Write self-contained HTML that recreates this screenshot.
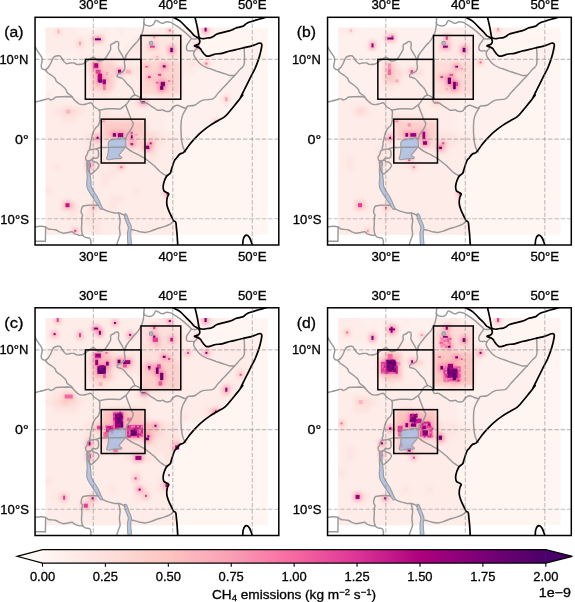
<!DOCTYPE html><html><head><meta charset="utf-8"><style>html,body{margin:0;padding:0;background:#fff;overflow:hidden}svg{display:block;will-change:transform}</style></head><body>
<svg width="575" height="602" viewBox="0 0 575 602" font-family="Liberation Sans, sans-serif">
<defs>
<clipPath id="cf" clipPathUnits="userSpaceOnUse"><rect x="35.05" y="17.3" width="243.75" height="227.7"/></clipPath>
<g id="geo" clip-path="url(#cf)">
<path d="M125.5,139.1 C125.8,139.9 125.8,141.3 125.8,142.5 C125.8,143.7 126.2,145.1 125.8,146.4 C125.3,147.7 124.0,149.0 123.1,150.1 C122.2,151.2 121.3,152.3 120.6,153.1 C119.9,153.9 118.6,154.3 118.8,155.0 C119.0,155.7 121.5,156.8 121.8,157.4 C122.1,158.0 121.6,158.4 120.6,158.6 C119.6,158.8 117.3,158.5 115.8,158.6 C114.3,158.7 112.7,159.0 111.5,159.2 C110.3,159.4 109.3,159.9 108.5,159.8 C107.7,159.7 106.7,159.5 106.6,158.6 C106.5,157.7 107.5,156.0 107.8,154.3 C108.1,152.6 108.4,150.1 108.5,148.3 C108.6,146.5 108.0,144.7 108.2,143.4 C108.4,142.1 108.9,141.0 109.7,140.3 C110.5,139.6 112.1,139.7 113.3,139.4 C114.5,139.2 115.8,139.1 117.0,138.8 C118.2,138.6 119.5,138.1 120.6,137.9 C121.7,137.8 122.9,137.7 123.7,137.9 C124.5,138.1 125.2,138.3 125.5,139.1Z" fill="#98b6e2" fill-opacity="0.72" stroke="#9c9c9c" stroke-width="1.1"/>
<path d="M87.6,162.5 C87.2,162.8 87.3,162.9 87.2,164.2 C87.1,165.5 86.8,168.4 86.8,170.5 C86.8,172.6 87.2,174.7 87.2,176.8 C87.2,178.9 86.8,181.3 86.8,183.2 C86.8,185.0 86.7,186.3 87.2,187.9 C87.7,189.5 88.7,191.0 89.6,192.6 C90.5,194.2 91.8,195.8 92.8,197.4 C93.8,199.0 95.0,200.7 95.9,202.1 C96.8,203.5 97.5,204.9 98.3,206.1 C99.1,207.3 100.0,208.8 100.7,209.2 C101.4,209.6 102.6,209.2 102.6,208.4 C102.6,207.6 101.3,205.8 100.7,204.5 C100.1,203.2 99.8,201.9 99.1,200.5 C98.4,199.1 97.6,197.4 96.7,195.8 C95.8,194.2 94.5,192.7 93.6,191.1 C92.7,189.5 91.7,187.9 91.2,186.3 C90.8,184.7 91.0,183.2 90.9,181.6 C90.8,180.0 90.6,178.7 90.4,176.8 C90.2,175.0 89.7,172.6 89.6,170.5 C89.5,168.4 89.6,165.5 89.6,164.2 C89.6,162.9 90.1,162.8 89.8,162.5 C89.5,162.2 88.0,162.2 87.6,162.5Z" fill="#98b6e2" fill-opacity="0.72" stroke="#9c9c9c" stroke-width="1.1"/>
<path d="M124.3,214.7 C124.2,215.8 125.2,219.0 125.9,221.1 C126.6,223.2 128.0,225.3 128.3,227.4 C128.6,229.5 127.5,230.6 127.5,233.7 C127.5,236.8 127.7,243.9 128.3,246.0 C129.0,248.1 131.0,248.1 131.4,246.0 C131.8,243.9 130.7,236.8 130.7,233.7 C130.7,230.6 131.7,229.5 131.4,227.4 C131.1,225.3 129.9,223.2 129.1,221.1 C128.3,219.0 127.5,215.8 126.7,214.7 C125.9,213.6 124.4,213.6 124.3,214.7Z" fill="#98b6e2" fill-opacity="0.72" stroke="#9c9c9c" stroke-width="1.1"/>
<circle cx="151.1" cy="43.2" r="1.8" fill="#98b6e2" fill-opacity="0.72" stroke="#9c9c9c" stroke-width="1.1"/>
<g fill="none" stroke="#999999" stroke-width="1.45" stroke-linejoin="round" stroke-linecap="round">
<path d="M35.0,46.5 C35.1,46.6 35.2,46.8 35.5,47.3 C35.8,47.8 36.1,48.7 36.7,49.7 C37.3,50.7 38.3,52.1 39.1,53.3 C39.9,54.5 41.1,55.9 41.6,57.0 C42.1,58.1 42.2,58.9 42.2,60.0 C42.2,61.1 41.8,62.6 41.6,63.7 C41.4,64.8 41.0,65.8 41.2,66.7 C41.4,67.6 42.1,68.7 42.8,69.2 C43.5,69.7 45.1,69.6 45.6,69.7"/>
<path d="M45.4,70.0 C45.9,69.5 47.5,68.3 48.4,67.2 C49.3,66.0 50.2,64.4 50.9,63.0 C51.6,61.6 52.0,59.9 52.6,58.8 C53.2,57.7 53.6,57.0 54.7,56.5 C55.8,56.0 58.2,55.6 59.3,55.8 C60.4,55.9 60.4,56.5 61.2,57.4 C62.0,58.4 63.1,60.6 64.0,61.6 C64.9,62.7 65.8,63.5 66.8,63.7 C67.8,63.9 68.7,63.1 70.0,63.0 C71.2,62.9 73.0,62.8 74.2,63.0 C75.3,63.2 75.5,64.2 76.9,64.4 C78.3,64.6 81.1,64.3 82.5,64.0 C83.9,63.6 84.1,63.0 85.3,62.3 C86.4,61.6 88.2,60.4 89.5,59.5 C90.7,58.7 92.0,57.4 92.9,57.2 C93.9,56.9 94.2,57.6 95.0,58.1 C95.8,58.7 96.8,60.2 97.8,60.6 C98.8,61.1 100.0,61.1 101.0,60.9 C102.0,60.7 103.1,60.3 104.1,59.5 C105.0,58.8 105.8,57.6 106.6,56.5 C107.4,55.3 108.2,53.8 108.9,52.6 C109.6,51.3 110.4,50.4 110.7,49.1 C111.0,47.8 110.1,46.0 110.7,44.9 C111.4,43.9 113.9,43.2 114.5,42.8 C115.1,42.4 114.2,42.6 114.5,42.4 C114.8,42.2 115.9,41.5 116.6,41.4 C117.2,41.4 118.0,41.6 118.4,42.1 C118.7,42.7 118.7,43.9 118.7,44.9 C118.7,46.0 118.2,47.2 118.4,48.4 C118.6,49.6 119.4,50.7 120.1,51.9 C120.7,53.0 121.6,54.3 122.2,55.3 C122.7,56.4 123.1,57.5 123.5,58.1 C124.0,58.8 124.7,59.1 124.9,59.2"/>
<path d="M144.2,15.0 C144.2,15.5 144.3,16.8 144.2,18.0 C144.1,19.3 143.9,21.7 143.8,22.5 C143.8,23.4 144.1,22.1 144.0,23.3 C143.9,24.6 143.5,28.2 143.0,30.3 C142.5,32.4 141.9,34.0 140.9,35.9 C140.0,37.7 138.6,39.9 137.5,41.4 C136.3,42.9 135.0,43.8 134.0,44.9 C132.9,46.1 132.1,47.2 131.2,48.4 C130.3,49.6 129.2,50.7 128.4,51.9 C127.6,53.0 126.9,54.1 126.3,55.3 C125.7,56.6 125.2,58.6 124.9,59.2"/>
<path d="M143.8,22.5 C144.0,22.9 143.8,24.2 144.8,24.7 C145.8,25.3 148.3,26.0 149.7,26.0 C151.1,25.9 152.3,25.4 153.3,24.5 C154.3,23.6 154.8,20.9 155.8,20.5 C156.7,20.0 157.7,21.2 158.8,21.7 C159.9,22.2 161.1,23.3 162.5,23.3 C163.8,23.3 165.3,21.8 166.7,21.7 C168.1,21.6 169.9,22.2 171.0,22.5 C172.1,22.9 172.3,23.1 173.4,23.8 C174.5,24.4 176.2,25.5 177.7,26.6 C179.2,27.6 180.9,28.9 182.5,30.2 C184.2,31.5 186.4,33.6 187.4,34.5 C188.4,35.4 188.0,34.9 188.6,35.6 C189.3,36.2 190.5,37.8 191.4,38.3 C192.3,38.9 193.3,39.0 194.2,39.0 C195.1,39.1 196.5,38.8 197.0,38.7"/>
<path d="M191.1,38.9 C190.7,39.5 189.4,41.3 188.6,42.5 C187.9,43.7 186.8,44.7 186.5,46.0 C186.3,47.3 186.4,49.4 186.9,50.2 C187.4,51.0 188.3,50.8 189.3,50.9 C190.3,51.0 192.0,50.7 192.8,50.9 C193.6,51.0 194.0,51.6 194.2,51.7"/>
<path d="M194.2,51.7 C194.3,51.5 194.4,51.1 194.9,50.5 C195.4,49.9 196.6,48.6 197.0,48.2"/>
<path d="M194.2,51.7 C194.1,52.0 193.6,53.0 193.6,53.7 C193.6,54.3 193.8,54.8 194.2,55.7 C194.6,56.7 195.5,58.1 196.3,59.2 C197.1,60.4 198.0,61.7 199.1,62.7 C200.1,63.7 201.3,64.7 202.5,65.5 C203.8,66.3 205.3,67.0 206.7,67.6 C208.1,68.1 209.7,68.6 210.9,69.0 C212.1,69.4 212.8,69.7 213.7,70.0 C214.5,70.3 214.0,70.2 215.9,70.9 C217.8,71.5 222.8,73.2 225.1,73.9 C227.4,74.7 228.1,75.2 229.7,75.5 C231.3,75.7 233.8,75.5 234.6,75.5"/>
<path d="M234.6,75.5 C235.6,74.4 238.8,70.8 240.4,68.9 C242.0,67.0 243.6,67.5 244.2,64.0 C244.9,60.5 244.2,50.6 244.2,47.9"/>
<path d="M126.0,55.0 C125.8,55.7 125.2,58.0 124.9,59.2 C124.7,60.4 124.4,60.9 124.4,62.3 C124.4,63.7 125.0,66.1 124.9,67.5 C124.8,68.9 124.5,69.8 123.9,70.7 C123.3,71.5 122.2,72.2 121.3,72.7 C120.3,73.3 118.8,73.2 118.2,73.8 C117.5,74.4 116.9,75.8 117.1,76.4 C117.3,77.0 118.3,77.1 119.2,77.4 C120.1,77.8 121.4,77.9 122.3,78.5 C123.3,79.1 124.1,80.1 124.9,81.1 C125.8,82.0 126.6,83.2 127.5,84.2 C128.5,85.3 129.9,86.5 130.7,87.3 C131.5,88.2 131.8,88.6 132.3,89.3 C132.8,90.1 133.2,91.0 133.6,92.0 C134.0,92.9 134.7,94.5 134.9,95.0"/>
<path d="M134.9,95.0 C135.5,95.2 137.5,95.8 138.4,96.3 C139.3,96.8 139.9,97.3 140.3,98.0 C140.6,98.8 140.3,99.9 140.5,100.7 C140.8,101.4 141.1,102.5 141.8,102.8 C142.6,103.2 144.2,102.6 145.3,102.8 C146.4,103.0 147.4,103.6 148.4,104.1 C149.4,104.7 150.3,105.6 151.4,106.3 C152.5,107.0 153.9,107.8 154.9,108.5 C155.9,109.1 156.5,109.9 157.5,110.2 C158.5,110.5 160.1,110.3 161.0,110.2 C161.8,110.1 162.1,109.6 162.7,109.8 C163.4,109.9 164.1,110.8 164.9,111.1 C165.7,111.4 166.6,111.6 167.5,111.5 C168.4,111.5 169.2,111.6 170.2,110.9 C171.1,110.2 171.8,108.3 172.9,107.4 C174.1,106.5 175.7,105.4 177.1,105.3 C178.5,105.2 179.9,106.2 181.3,106.7 C182.7,107.2 184.3,108.2 185.5,108.1 C186.6,108.0 186.7,106.5 188.2,106.0 C189.7,105.5 192.2,106.2 194.5,105.3 C196.8,104.4 199.1,101.4 202.2,100.4 C205.2,99.3 210.2,100.0 212.9,98.8 C215.5,97.6 216.3,95.1 218.2,93.1 C220.1,91.0 222.4,88.7 224.3,86.6 C226.3,84.6 228.0,82.7 229.7,80.8 C231.4,78.9 233.8,76.3 234.6,75.5"/>
<path d="M134.9,95.0 C134.5,95.2 133.1,95.7 132.3,96.3 C131.5,97.0 130.8,97.9 130.1,98.9 C129.4,99.9 128.7,101.4 127.9,102.4 C127.2,103.4 126.1,104.6 125.8,105.0"/>
<path d="M125.8,105.0 C125.3,105.4 123.7,106.5 122.7,107.2 C121.8,107.8 121.0,108.6 120.1,108.9 C119.2,109.2 119.5,108.9 117.5,108.9 C115.5,108.9 110.7,108.7 108.2,108.8 C105.8,108.9 104.2,109.2 102.7,109.5 C101.2,109.7 99.8,110.1 99.2,110.2"/>
<path d="M125.8,105.0 C126.0,105.6 126.6,107.3 127.1,108.5 C127.5,109.6 127.9,110.8 128.4,112.0 C128.8,113.1 129.2,114.3 129.7,115.4 C130.1,116.6 130.5,117.9 131.0,118.9 C131.4,119.9 131.9,120.8 132.3,121.5 C132.6,122.2 133.1,122.5 133.2,123.3 C133.2,124.0 133.1,124.9 132.7,125.9 C132.4,126.9 131.6,128.3 131.0,129.3 C130.3,130.4 129.5,131.4 128.8,132.4 C128.2,133.3 127.5,134.2 127.1,135.0 C126.7,135.8 126.7,136.7 126.3,137.3 C126.0,137.9 125.2,138.5 124.9,138.7"/>
<path d="M72.1,97.0 C72.6,97.7 74.4,100.0 75.5,101.1 C76.7,102.3 77.9,103.3 79.0,103.9 C80.2,104.5 81.2,104.6 82.5,104.6 C83.8,104.6 85.4,104.2 86.7,103.9 C87.9,103.6 89.2,102.8 90.2,102.8 C91.1,102.8 91.5,103.3 92.2,103.9 C92.9,104.6 93.3,105.8 94.3,106.7 C95.4,107.6 97.7,108.9 98.5,109.5 C99.3,110.1 99.1,110.1 99.2,110.2"/>
<path d="M45.4,70.0 C45.7,70.4 46.6,71.8 47.7,72.7 C48.8,73.7 50.7,74.6 51.9,75.5 C53.1,76.4 54.3,77.3 55.1,78.3 C55.9,79.3 55.4,80.3 56.5,81.5 C57.6,82.7 60.1,83.9 61.6,85.3 C63.2,86.6 64.9,88.2 65.8,89.4 C66.7,90.7 66.3,91.8 67.2,92.8 C68.1,93.8 70.1,94.9 71.0,95.6 C71.8,96.3 71.9,96.7 72.1,97.0"/>
<path d="M34.5,102.2 C35.2,102.1 37.2,101.5 38.7,101.1 C40.2,100.8 41.9,100.4 43.5,100.0 C45.2,99.6 47.3,98.6 48.4,98.6 C49.6,98.6 49.6,100.0 50.5,100.0 C51.4,100.0 53.1,99.1 54.0,98.6 C54.9,98.1 54.8,97.3 56.1,97.0 C57.3,96.6 59.7,96.7 61.6,96.7 C63.6,96.6 66.2,96.5 67.9,96.5 C69.6,96.6 71.4,96.9 72.1,97.0"/>
<path d="M99.2,110.2 C99.3,110.5 99.8,111.0 99.9,112.3 C100.0,113.5 99.6,116.6 99.6,117.8 C99.6,119.1 100.1,118.7 99.9,119.9 C99.7,121.1 99.1,123.9 98.4,125.2 C97.7,126.5 96.6,126.8 95.8,127.8 C95.0,128.8 94.2,130.1 93.6,131.3 C93.0,132.5 92.6,133.9 92.3,135.2 C91.9,136.5 91.7,137.9 91.4,139.1 C91.1,140.4 90.7,141.6 90.5,142.6 C90.4,143.6 90.7,144.3 90.5,145.2 C90.4,146.1 89.8,147.1 89.7,147.8 C89.6,148.6 89.9,149.4 90.0,149.7"/>
<path d="M88.1,151.2 C88.4,151.0 89.2,150.0 90.0,149.7 C90.8,149.4 92.0,149.5 93.0,149.3 C94.0,149.2 95.1,148.8 96.0,149.0 C96.8,149.2 97.8,149.5 98.2,150.5 C98.6,151.5 98.6,153.8 98.6,155.0 C98.5,156.1 98.3,157.0 97.8,157.6 C97.3,158.1 96.4,158.3 95.6,158.3 C94.8,158.4 93.7,157.7 93.0,158.0 C92.3,158.2 92.0,159.3 91.5,159.8 C90.9,160.3 90.2,160.8 89.6,160.9 C89.0,161.1 88.3,161.1 87.7,160.9 C87.2,160.8 86.6,160.8 86.2,160.2 C85.9,159.6 85.4,158.1 85.5,157.2 C85.6,156.3 86.6,155.7 87.0,155.0 C87.4,154.2 87.5,153.3 87.7,152.7 C87.9,152.1 88.0,151.5 88.1,151.2"/>
<path d="M87.7,160.9 C88.0,160.9 89.0,161.1 89.6,160.9 C90.2,160.8 90.8,159.7 91.5,159.8 C92.2,159.9 92.8,161.3 93.7,161.7 C94.6,162.1 95.8,161.8 96.7,162.4 C97.6,163.1 98.8,164.4 99.0,165.4 C99.1,166.4 98.2,167.4 97.5,168.4 C96.7,169.4 95.5,170.5 94.5,171.4 C93.5,172.3 92.3,173.8 91.5,174.0 C90.7,174.3 90.1,173.5 89.6,172.9 C89.1,172.3 88.9,171.7 88.5,170.7 C88.1,169.7 87.6,168.3 87.4,166.9 C87.1,165.6 86.9,163.4 87.0,162.4 C87.0,161.4 87.6,161.2 87.7,160.9"/>
<path d="M96.0,149.0 C96.8,148.7 100.2,147.5 101.2,147.3 C102.2,147.0 100.7,147.4 101.8,147.4 C103.0,147.4 104.4,147.5 108.4,147.4 C112.4,147.3 122.9,147.0 125.8,147.0"/>
<path d="M125.8,147.0 C126.7,147.7 129.1,149.9 131.2,151.2 C133.3,152.5 135.9,153.5 138.2,154.7 C140.4,155.9 142.4,156.9 144.4,158.2 C146.4,159.4 148.4,161.1 150.0,162.3 C151.6,163.6 153.1,164.9 154.2,165.8 C155.2,166.7 155.2,166.8 156.2,167.8 C157.3,168.8 159.0,170.8 160.4,172.0 C161.8,173.1 163.5,174.0 164.6,174.7 C165.6,175.4 166.3,175.9 166.7,176.1"/>
<path d="M186.8,107.4 C186.2,108.7 183.6,112.8 182.7,115.0 C181.7,117.2 181.6,117.8 181.3,120.6 C181.0,123.4 180.9,128.0 181.0,131.7 C181.1,135.4 181.5,139.9 182.0,142.9 C182.5,145.9 183.4,148.3 184.1,149.8 C184.7,151.3 185.5,151.6 185.7,151.9"/>
<path d="M97.8,205.3 C97.0,205.3 94.7,205.1 92.9,205.1 C91.2,205.1 89.0,205.2 87.4,205.3 C85.7,205.5 84.1,205.6 83.2,206.0 C82.3,206.5 82.2,207.1 81.8,208.1 C81.5,209.2 81.0,211.1 81.1,212.3 C81.2,213.5 82.4,214.2 82.5,215.1 C82.6,216.0 81.9,216.5 81.8,217.9 C81.7,219.3 81.9,221.6 81.8,223.4 C81.8,225.3 81.4,227.1 81.5,229.0 C81.6,230.9 81.9,233.2 82.5,234.6 C83.1,236.0 84.1,236.8 85.3,237.3 C86.4,237.9 88.5,237.5 89.5,238.0 C90.4,238.6 90.6,239.7 90.8,240.8 C91.1,242.0 90.8,244.3 90.8,245.0"/>
<path d="M34.5,226.9 C35.4,226.8 38.2,226.2 40.1,226.2 C41.9,226.2 44.2,226.4 45.6,226.9 C47.0,227.4 46.8,228.5 48.4,229.0 C50.0,229.5 53.5,229.2 55.4,229.7 C57.2,230.2 58.2,231.2 59.5,231.8 C60.9,232.4 62.3,233.1 63.7,233.2 C65.1,233.3 66.5,232.7 67.9,232.5 C69.3,232.2 70.9,231.6 72.1,231.8 C73.2,232.0 73.7,233.3 74.8,233.9 C76.0,234.4 77.7,235.0 79.0,235.3 C80.3,235.5 81.9,235.3 82.5,235.3"/>
<path d="M45.6,226.9 L45.4,241.5"/>
<path d="M34.5,241.2 L44.9,241.2"/>
<path d="M102.7,208.8 C103.4,209.2 104.9,210.2 106.8,210.9 C108.8,211.6 112.5,212.7 114.5,213.0 C116.5,213.3 117.3,212.8 118.7,213.0 C120.1,213.2 121.8,213.9 122.8,214.4 C123.9,214.9 124.6,215.6 124.9,215.8"/>
<path d="M118.7,213.0 C118.9,214.3 119.9,218.2 120.1,220.7 C120.2,223.1 119.4,225.3 119.4,227.6 C119.4,229.9 120.2,232.7 120.1,234.6 C119.9,236.4 119.1,237.3 118.7,238.7 C118.2,240.1 117.6,241.8 117.3,242.9 C116.9,244.1 116.7,245.2 116.6,245.7"/>
<path d="M174.3,220.7 C173.6,221.2 172.0,223.1 170.2,224.1 C168.3,225.2 165.5,226.1 163.2,226.9 C160.9,227.7 158.3,228.3 156.2,229.0 C154.2,229.7 152.5,230.5 150.7,231.1 C148.8,231.7 146.8,232.4 145.1,232.5 C143.4,232.6 141.9,232.1 140.2,231.8 C138.6,231.4 136.8,230.7 135.4,230.4 C134.0,230.0 132.5,229.8 131.9,229.7"/>
</g>
<g fill="none" stroke="#000" stroke-width="1.7" stroke-linejoin="round" stroke-linecap="round">
<path d="M195.3,15.0 C195.3,15.6 195.1,17.1 195.3,18.4 C195.4,19.6 196.0,20.9 196.3,22.7 C196.7,24.4 197.2,27.0 197.6,28.8 C197.9,30.6 198.1,32.1 198.4,33.5 C198.6,34.8 198.7,36.1 199.1,37.0 C199.4,37.8 199.6,38.1 200.5,38.3 C201.3,38.6 202.8,38.8 203.9,38.7 C205.1,38.6 206.3,38.2 207.4,38.0 C208.6,37.8 209.8,37.9 210.9,37.7 C211.9,37.4 212.7,36.8 213.7,36.3 C214.6,35.7 214.7,34.9 216.5,34.2 C218.2,33.5 221.9,32.8 224.3,32.1 C226.8,31.5 229.3,31.0 231.2,30.3 C233.1,29.6 234.3,28.6 235.8,28.0 C237.4,27.4 239.1,27.3 240.4,26.9 C241.7,26.6 242.3,26.7 243.5,26.0 C244.6,25.4 245.8,23.8 247.3,23.0 C248.8,22.1 250.7,21.7 252.7,21.1 C254.6,20.5 256.9,19.8 258.8,19.3 C260.7,18.7 262.6,18.2 264.1,17.8 C265.7,17.3 267.3,16.7 268.0,16.5"/>
<path d="M172.9,17.1 C173.2,17.2 173.1,17.1 174.3,17.8 C175.5,18.4 178.1,19.5 180.1,21.1 C182.1,22.7 184.4,25.3 186.2,27.2 C188.0,29.0 189.7,30.6 191.1,32.0 C192.4,33.4 193.1,34.6 194.2,35.6 C195.3,36.5 196.8,37.0 197.7,37.7 C198.5,38.3 199.1,39.0 199.4,39.7 C199.8,40.4 199.8,41.2 199.8,41.8 C199.7,42.5 199.4,43.1 199.1,43.6 C198.7,44.0 198.3,44.3 197.7,44.6 C197.0,44.9 195.8,45.1 195.2,45.3 C194.7,45.5 194.4,45.8 194.5,46.0 C194.7,46.2 195.6,46.5 196.3,46.7 C196.9,46.9 197.7,47.0 198.4,47.4 C199.1,47.7 199.9,48.2 200.5,48.8 C201.0,49.4 201.3,50.1 201.8,50.9 C202.4,51.7 203.2,52.8 203.9,53.7 C204.6,54.5 205.2,55.3 206.0,55.7 C206.8,56.1 207.8,56.2 208.8,56.1 C209.8,56.0 211.1,55.4 212.3,55.0 C213.4,54.7 214.1,54.3 215.8,54.0 C217.4,53.7 219.7,53.8 222.0,53.3 C224.4,52.8 226.9,51.7 229.7,51.0 C232.5,50.3 236.3,49.6 238.9,49.0 C241.4,48.4 242.7,48.0 245.0,47.4 C247.3,46.9 250.4,46.3 252.7,45.6 C255.0,44.9 257.4,43.7 258.8,43.3 C260.2,42.9 260.6,42.9 261.1,43.3 C261.6,43.7 262.0,44.0 261.8,45.6 C261.7,47.3 260.9,50.7 260.3,53.3 C259.7,55.8 258.9,58.4 258.0,60.9 C257.1,63.5 256.1,66.0 255.0,68.6 C253.8,71.1 252.4,73.7 251.1,76.2 C249.9,78.8 248.6,81.3 247.3,83.9 C246.0,86.4 244.6,89.2 243.5,91.5 C242.3,93.8 240.5,97.1 240.4,97.6 C240.3,98.2 243.2,94.3 242.7,95.0 C242.2,95.7 239.3,99.5 237.4,101.9 C235.4,104.3 233.3,107.1 231.2,109.5 C229.2,112.0 227.4,114.5 225.1,116.4 C222.8,118.3 220.0,119.5 217.5,121.0 C214.9,122.5 212.1,124.1 209.8,125.6 C207.5,127.1 205.7,128.5 203.7,130.2 C201.6,131.9 199.8,133.3 197.6,135.6 C195.3,137.8 192.1,141.4 190.3,143.6 C188.5,145.7 188.0,146.9 186.8,148.4 C185.7,149.9 184.5,151.7 183.4,152.6 C182.2,153.5 181.1,153.1 179.9,154.0 C178.7,154.9 177.3,157.0 176.4,158.2 C175.5,159.3 175.1,159.1 174.3,161.0 C173.5,162.8 172.2,167.1 171.5,169.2 C170.8,171.2 171.0,172.2 170.2,173.3 C169.3,174.5 167.6,175.0 166.7,176.1 C165.7,177.3 165.2,178.7 164.6,180.3 C164.0,181.9 163.3,184.1 163.2,185.9 C163.1,187.6 163.2,189.6 163.9,190.7 C164.6,191.9 166.6,192.2 167.4,192.8 C168.2,193.4 168.8,193.5 168.8,194.2 C168.8,194.9 167.7,195.6 167.4,197.0 C167.0,198.4 166.7,200.9 166.7,202.6 C166.7,204.2 166.9,205.1 167.4,206.7 C167.8,208.4 168.8,210.7 169.5,212.3 C170.2,213.9 170.8,215.1 171.5,216.5 C172.2,217.9 172.9,219.7 173.6,220.7 C174.3,221.6 175.3,220.9 175.7,222.0 C176.2,223.2 176.2,225.5 176.4,227.6 C176.6,229.7 176.9,231.6 177.1,234.6 C177.3,237.6 177.7,243.8 177.8,245.7"/>
<path d="M242.7,246.1 C242.7,245.9 242.6,246.2 242.7,244.9 C242.8,243.6 242.8,240.1 243.5,238.5 C244.1,236.8 245.5,235.2 246.5,235.1 C247.6,235.0 248.6,236.1 249.6,237.7 C250.6,239.3 251.8,243.5 252.4,244.9 C252.9,246.3 252.6,245.9 252.7,246.1"/>
</g>
<g stroke="#808080" stroke-opacity="0.5" stroke-width="1.1" stroke-dasharray="4.4 1.9" fill="none">
<line x1="93.30" y1="17.3" x2="93.30" y2="245.0"/>
<line x1="172.80" y1="17.3" x2="172.80" y2="245.0"/>
<line x1="252.30" y1="17.3" x2="252.30" y2="245.0"/>
<line x1="35.05" y1="59.38" x2="278.8" y2="59.38"/>
<line x1="35.05" y1="139.08" x2="278.8" y2="139.08"/>
<line x1="35.05" y1="218.78" x2="278.8" y2="218.78"/>
</g>
<g fill="none" stroke="#000" stroke-width="1.5">
<rect x="85.35" y="59.38" width="55.65" height="39.85"/>
<rect x="141.00" y="35.47" width="39.75" height="63.76"/>
<rect x="101.25" y="119.16" width="43.72" height="43.84"/>
</g>
</g>
</defs>
<defs>
<clipPath id="cd" clipPathUnits="userSpaceOnUse"><rect x="45.6" y="27.5" width="222.60" height="207.30"/></clipPath>
<clipPath id="cl" clipPathUnits="userSpaceOnUse"><path d="M172.9,0.0 L172.9,17.1 L174.3,17.8 L180.1,21.1 L186.2,27.2 L191.1,32.0 L194.2,35.6 L197.7,37.7 L199.4,39.7 L199.8,41.8 L199.1,43.6 L197.7,44.6 L195.2,45.3 L194.5,46.0 L196.3,46.7 L198.4,47.4 L200.5,48.8 L201.8,50.9 L203.9,53.7 L206.0,55.7 L208.8,56.1 L212.3,55.0 L215.8,54.0 L222.0,53.3 L229.7,51.0 L238.9,49.0 L245.0,47.4 L252.7,45.6 L258.8,43.3 L261.1,43.3 L261.8,45.6 L260.3,53.3 L258.0,60.9 L255.0,68.6 L251.1,76.2 L247.3,83.9 L243.5,91.5 L240.4,97.6 L242.7,95.0 L237.4,101.9 L231.2,109.5 L225.1,116.4 L217.5,121.0 L209.8,125.6 L203.7,130.2 L197.6,135.6 L190.3,143.6 L186.8,148.4 L183.4,152.6 L179.9,154.0 L176.4,158.2 L174.3,161.0 L171.5,169.2 L170.2,173.3 L166.7,176.1 L164.6,180.3 L163.2,185.9 L163.9,190.7 L167.4,192.8 L168.8,194.2 L167.4,197.0 L166.7,202.6 L167.4,206.7 L169.5,212.3 L171.5,216.5 L173.6,220.7 L175.7,222.0 L176.4,227.6 L177.1,234.6 L177.8,245.7 L242.7,246.1 L242.7,244.9 L243.5,238.5 L246.5,235.1 L249.6,237.7 L252.4,244.9 L252.7,246.1 L252.7,270.0 L0.0,270.0 L0.0,0.0Z M195.3,15.0 L195.3,18.4 L196.3,22.7 L197.6,28.8 L198.4,33.5 L199.1,37.0 L200.5,38.3 L203.9,38.7 L207.4,38.0 L210.9,37.7 L213.7,36.3 L216.5,34.2 L224.3,32.1 L231.2,30.3 L235.8,28.0 L240.4,26.9 L243.5,26.0 L247.3,23.0 L252.7,21.1 L258.8,19.3 L264.1,17.8 L268.0,16.5 L300.0,16.5 L300.0,0.0 L195.3,0.0Z"/></clipPath>
<filter id="bl" x="-20%" y="-20%" width="140%" height="140%"><feGaussianBlur stdDeviation="2.2"/></filter>
</defs>
<g transform="translate(0,0)">
<g clip-path="url(#cd)">
<rect x="45.6" y="27.5" width="222.60" height="207.30" fill="#fff6f2"/>
<g clip-path="url(#cl)"><g filter="url(#bl)">
<rect x="37.6" y="19.5" width="40.0" height="8.3" fill="#feece8"/>
<rect x="77.4" y="19.5" width="24.2" height="8.3" fill="#fef1ed"/>
<rect x="101.2" y="19.5" width="8.2" height="8.3" fill="#feece8"/>
<rect x="109.2" y="19.5" width="8.2" height="8.3" fill="#fef1ed"/>
<rect x="117.2" y="19.5" width="8.2" height="8.3" fill="#feece8"/>
<rect x="125.1" y="19.5" width="32.1" height="8.3" fill="#fef1ed"/>
<rect x="156.9" y="19.5" width="16.2" height="8.3" fill="#feece8"/>
<rect x="172.8" y="19.5" width="103.7" height="8.3" fill="#fef1ed"/>
<rect x="37.6" y="27.5" width="40.0" height="8.3" fill="#feece8"/>
<rect x="77.4" y="27.5" width="24.2" height="8.3" fill="#fef1ed"/>
<rect x="101.2" y="27.5" width="8.2" height="8.3" fill="#feece8"/>
<rect x="109.2" y="27.5" width="8.2" height="8.3" fill="#fef1ed"/>
<rect x="117.2" y="27.5" width="8.2" height="8.3" fill="#feece8"/>
<rect x="125.1" y="27.5" width="32.1" height="8.3" fill="#fef1ed"/>
<rect x="156.9" y="27.5" width="16.2" height="8.3" fill="#feece8"/>
<rect x="172.8" y="27.5" width="103.7" height="8.3" fill="#fef1ed"/>
<rect x="37.6" y="35.5" width="71.8" height="8.3" fill="#feece8"/>
<rect x="109.2" y="35.5" width="24.2" height="8.3" fill="#fef1ed"/>
<rect x="133.1" y="35.5" width="48.0" height="8.3" fill="#feece8"/>
<rect x="180.8" y="35.5" width="95.7" height="8.3" fill="#fef1ed"/>
<rect x="37.6" y="43.4" width="71.8" height="8.3" fill="#feece8"/>
<rect x="109.2" y="43.4" width="16.2" height="8.3" fill="#fef1ed"/>
<rect x="125.1" y="43.4" width="8.2" height="8.3" fill="#feece8"/>
<rect x="133.1" y="43.4" width="8.2" height="8.3" fill="#fde5e1"/>
<rect x="141.0" y="43.4" width="16.2" height="8.3" fill="#feece8"/>
<rect x="156.9" y="43.4" width="8.2" height="8.3" fill="#fde5e1"/>
<rect x="164.8" y="43.4" width="16.2" height="8.3" fill="#feece8"/>
<rect x="180.8" y="43.4" width="95.7" height="8.3" fill="#fef1ed"/>
<rect x="37.6" y="51.4" width="16.2" height="8.3" fill="#fef1ed"/>
<rect x="53.6" y="51.4" width="8.2" height="8.3" fill="#feece8"/>
<rect x="61.5" y="51.4" width="16.2" height="8.3" fill="#fef1ed"/>
<rect x="77.4" y="51.4" width="119.5" height="8.3" fill="#feece8"/>
<rect x="196.7" y="51.4" width="79.8" height="8.3" fill="#fef1ed"/>
<rect x="37.6" y="59.4" width="48.0" height="8.3" fill="#fef1ed"/>
<rect x="85.3" y="59.4" width="8.2" height="8.3" fill="#fde5e1"/>
<rect x="93.3" y="59.4" width="8.2" height="8.3" fill="#fccbc7"/>
<rect x="101.2" y="59.4" width="16.2" height="8.3" fill="#fde5e1"/>
<rect x="117.2" y="59.4" width="8.2" height="8.3" fill="#feece8"/>
<rect x="125.1" y="59.4" width="8.2" height="8.3" fill="#fde5e1"/>
<rect x="133.1" y="59.4" width="16.2" height="8.3" fill="#feece8"/>
<rect x="149.0" y="59.4" width="24.2" height="8.3" fill="#fde5e1"/>
<rect x="172.8" y="59.4" width="16.2" height="8.3" fill="#feece8"/>
<rect x="188.7" y="59.4" width="8.2" height="8.3" fill="#fde5e1"/>
<rect x="196.7" y="59.4" width="8.2" height="8.3" fill="#feece8"/>
<rect x="204.6" y="59.4" width="71.8" height="8.3" fill="#fef1ed"/>
<rect x="37.6" y="67.4" width="48.0" height="8.3" fill="#fef1ed"/>
<rect x="85.3" y="67.4" width="8.2" height="8.3" fill="#fde5e1"/>
<rect x="93.3" y="67.4" width="8.2" height="8.3" fill="#fbb3bb"/>
<rect x="101.2" y="67.4" width="8.2" height="8.3" fill="#fddbd7"/>
<rect x="109.2" y="67.4" width="32.1" height="8.3" fill="#fde5e1"/>
<rect x="141.0" y="67.4" width="8.2" height="8.3" fill="#feece8"/>
<rect x="149.0" y="67.4" width="24.2" height="8.3" fill="#fde5e1"/>
<rect x="172.8" y="67.4" width="24.2" height="8.3" fill="#feece8"/>
<rect x="196.7" y="67.4" width="79.8" height="8.3" fill="#fef1ed"/>
<rect x="37.6" y="75.3" width="48.0" height="8.3" fill="#fef1ed"/>
<rect x="85.3" y="75.3" width="8.2" height="8.3" fill="#feece8"/>
<rect x="93.3" y="75.3" width="16.2" height="8.3" fill="#fccbc7"/>
<rect x="109.2" y="75.3" width="8.2" height="8.3" fill="#fde5e1"/>
<rect x="117.2" y="75.3" width="32.1" height="8.3" fill="#feece8"/>
<rect x="149.0" y="75.3" width="8.2" height="8.3" fill="#fde5e1"/>
<rect x="156.9" y="75.3" width="8.2" height="8.3" fill="#fddbd7"/>
<rect x="164.8" y="75.3" width="8.2" height="8.3" fill="#fde5e1"/>
<rect x="172.8" y="75.3" width="8.2" height="8.3" fill="#feece8"/>
<rect x="180.8" y="75.3" width="95.7" height="8.3" fill="#fef1ed"/>
<rect x="37.6" y="83.3" width="48.0" height="8.3" fill="#fef1ed"/>
<rect x="85.3" y="83.3" width="8.2" height="8.3" fill="#feece8"/>
<rect x="93.3" y="83.3" width="8.2" height="8.3" fill="#fde5e1"/>
<rect x="101.2" y="83.3" width="8.2" height="8.3" fill="#fddbd7"/>
<rect x="109.2" y="83.3" width="40.0" height="8.3" fill="#feece8"/>
<rect x="149.0" y="83.3" width="8.2" height="8.3" fill="#fde5e1"/>
<rect x="156.9" y="83.3" width="8.2" height="8.3" fill="#fccbc7"/>
<rect x="164.8" y="83.3" width="8.2" height="8.3" fill="#fde5e1"/>
<rect x="172.8" y="83.3" width="8.2" height="8.3" fill="#feece8"/>
<rect x="180.8" y="83.3" width="95.7" height="8.3" fill="#fef1ed"/>
<rect x="37.6" y="91.3" width="16.2" height="8.3" fill="#feece8"/>
<rect x="53.6" y="91.3" width="32.1" height="8.3" fill="#fef1ed"/>
<rect x="85.3" y="91.3" width="8.2" height="8.3" fill="#feece8"/>
<rect x="93.3" y="91.3" width="16.2" height="8.3" fill="#fde5e1"/>
<rect x="109.2" y="91.3" width="48.0" height="8.3" fill="#feece8"/>
<rect x="156.9" y="91.3" width="16.2" height="8.3" fill="#fde5e1"/>
<rect x="172.8" y="91.3" width="8.2" height="8.3" fill="#feece8"/>
<rect x="180.8" y="91.3" width="95.7" height="8.3" fill="#fef1ed"/>
<rect x="37.6" y="99.3" width="95.7" height="8.3" fill="#feece8"/>
<rect x="133.1" y="99.3" width="16.2" height="8.3" fill="#fde5e1"/>
<rect x="149.0" y="99.3" width="24.2" height="8.3" fill="#feece8"/>
<rect x="172.8" y="99.3" width="103.7" height="8.3" fill="#fef1ed"/>
<rect x="37.6" y="107.2" width="16.2" height="8.3" fill="#feece8"/>
<rect x="53.6" y="107.2" width="16.2" height="8.3" fill="#fde5e1"/>
<rect x="69.5" y="107.2" width="8.2" height="8.3" fill="#fddbd7"/>
<rect x="77.4" y="107.2" width="8.2" height="8.3" fill="#fde5e1"/>
<rect x="85.3" y="107.2" width="16.2" height="8.3" fill="#feece8"/>
<rect x="101.2" y="107.2" width="8.2" height="8.3" fill="#fde5e1"/>
<rect x="109.2" y="107.2" width="63.9" height="8.3" fill="#feece8"/>
<rect x="172.8" y="107.2" width="103.7" height="8.3" fill="#fef1ed"/>
<rect x="37.6" y="115.2" width="24.2" height="8.3" fill="#feece8"/>
<rect x="61.5" y="115.2" width="16.2" height="8.3" fill="#fde5e1"/>
<rect x="77.4" y="115.2" width="24.2" height="8.3" fill="#feece8"/>
<rect x="101.2" y="115.2" width="32.1" height="8.3" fill="#fde5e1"/>
<rect x="133.1" y="115.2" width="32.1" height="8.3" fill="#feece8"/>
<rect x="164.8" y="115.2" width="111.6" height="8.3" fill="#fef1ed"/>
<rect x="37.6" y="123.2" width="63.9" height="8.3" fill="#feece8"/>
<rect x="101.2" y="123.2" width="40.0" height="8.3" fill="#fddbd7"/>
<rect x="141.0" y="123.2" width="8.2" height="8.3" fill="#fde5e1"/>
<rect x="149.0" y="123.2" width="16.2" height="8.3" fill="#feece8"/>
<rect x="164.8" y="123.2" width="111.6" height="8.3" fill="#fef1ed"/>
<rect x="37.6" y="131.2" width="48.0" height="8.3" fill="#feece8"/>
<rect x="85.3" y="131.2" width="8.2" height="8.3" fill="#fde5e1"/>
<rect x="93.3" y="131.2" width="8.2" height="8.3" fill="#fddbd7"/>
<rect x="101.2" y="131.2" width="8.2" height="8.3" fill="#fde5e1"/>
<rect x="109.2" y="131.2" width="16.2" height="8.3" fill="#fddbd7"/>
<rect x="125.1" y="131.2" width="8.2" height="8.3" fill="#fccbc7"/>
<rect x="133.1" y="131.2" width="24.2" height="8.3" fill="#fddbd7"/>
<rect x="156.9" y="131.2" width="8.2" height="8.3" fill="#fde5e1"/>
<rect x="164.8" y="131.2" width="16.2" height="8.3" fill="#feece8"/>
<rect x="180.8" y="131.2" width="95.7" height="8.3" fill="#fef1ed"/>
<rect x="37.6" y="139.1" width="48.0" height="8.3" fill="#feece8"/>
<rect x="85.3" y="139.1" width="8.2" height="8.3" fill="#fde5e1"/>
<rect x="93.3" y="139.1" width="8.2" height="8.3" fill="#fddbd7"/>
<rect x="101.2" y="139.1" width="8.2" height="8.3" fill="#fde5e1"/>
<rect x="109.2" y="139.1" width="16.2" height="8.3" fill="#feece8"/>
<rect x="125.1" y="139.1" width="16.2" height="8.3" fill="#fddbd7"/>
<rect x="141.0" y="139.1" width="8.2" height="8.3" fill="#fde5e1"/>
<rect x="149.0" y="139.1" width="8.2" height="8.3" fill="#fddbd7"/>
<rect x="156.9" y="139.1" width="8.2" height="8.3" fill="#fde5e1"/>
<rect x="164.8" y="139.1" width="16.2" height="8.3" fill="#feece8"/>
<rect x="180.8" y="139.1" width="95.7" height="8.3" fill="#fef1ed"/>
<rect x="37.6" y="147.1" width="48.0" height="8.3" fill="#feece8"/>
<rect x="85.3" y="147.1" width="24.2" height="8.3" fill="#fde5e1"/>
<rect x="109.2" y="147.1" width="16.2" height="8.3" fill="#feece8"/>
<rect x="125.1" y="147.1" width="24.2" height="8.3" fill="#fde5e1"/>
<rect x="149.0" y="147.1" width="8.2" height="8.3" fill="#fddbd7"/>
<rect x="156.9" y="147.1" width="24.2" height="8.3" fill="#feece8"/>
<rect x="180.8" y="147.1" width="95.7" height="8.3" fill="#fef1ed"/>
<rect x="37.6" y="155.1" width="48.0" height="8.3" fill="#feece8"/>
<rect x="85.3" y="155.1" width="16.2" height="8.3" fill="#fde5e1"/>
<rect x="101.2" y="155.1" width="48.0" height="8.3" fill="#feece8"/>
<rect x="149.0" y="155.1" width="8.2" height="8.3" fill="#fde5e1"/>
<rect x="156.9" y="155.1" width="24.2" height="8.3" fill="#feece8"/>
<rect x="180.8" y="155.1" width="95.7" height="8.3" fill="#fef1ed"/>
<rect x="37.6" y="163.0" width="16.2" height="8.3" fill="#feece8"/>
<rect x="53.6" y="163.0" width="8.2" height="8.3" fill="#fde5e1"/>
<rect x="61.5" y="163.0" width="24.2" height="8.3" fill="#feece8"/>
<rect x="85.3" y="163.0" width="16.2" height="8.3" fill="#fde5e1"/>
<rect x="101.2" y="163.0" width="8.2" height="8.3" fill="#feece8"/>
<rect x="109.2" y="163.0" width="16.2" height="8.3" fill="#fde5e1"/>
<rect x="125.1" y="163.0" width="55.9" height="8.3" fill="#feece8"/>
<rect x="180.8" y="163.0" width="95.7" height="8.3" fill="#fef1ed"/>
<rect x="37.6" y="171.0" width="63.9" height="8.3" fill="#feece8"/>
<rect x="101.2" y="171.0" width="16.2" height="8.3" fill="#fde5e1"/>
<rect x="117.2" y="171.0" width="63.9" height="8.3" fill="#feece8"/>
<rect x="180.8" y="171.0" width="95.7" height="8.3" fill="#fef1ed"/>
<rect x="37.6" y="179.0" width="63.9" height="8.3" fill="#feece8"/>
<rect x="101.2" y="179.0" width="8.2" height="8.3" fill="#fde5e1"/>
<rect x="109.2" y="179.0" width="71.8" height="8.3" fill="#feece8"/>
<rect x="180.8" y="179.0" width="95.7" height="8.3" fill="#fef1ed"/>
<rect x="37.6" y="187.0" width="16.2" height="8.3" fill="#fde5e1"/>
<rect x="53.6" y="187.0" width="79.8" height="8.3" fill="#feece8"/>
<rect x="133.1" y="187.0" width="8.2" height="8.3" fill="#fde5e1"/>
<rect x="141.0" y="187.0" width="40.0" height="8.3" fill="#feece8"/>
<rect x="180.8" y="187.0" width="95.7" height="8.3" fill="#fef1ed"/>
<rect x="37.6" y="194.9" width="71.8" height="8.3" fill="#feece8"/>
<rect x="109.2" y="194.9" width="16.2" height="8.3" fill="#fde5e1"/>
<rect x="125.1" y="194.9" width="55.9" height="8.3" fill="#feece8"/>
<rect x="180.8" y="194.9" width="95.7" height="8.3" fill="#fef1ed"/>
<rect x="37.6" y="202.9" width="24.2" height="8.3" fill="#feece8"/>
<rect x="61.5" y="202.9" width="8.2" height="8.3" fill="#fde5e1"/>
<rect x="69.5" y="202.9" width="8.2" height="8.3" fill="#fddbd7"/>
<rect x="77.4" y="202.9" width="16.2" height="8.3" fill="#feece8"/>
<rect x="93.3" y="202.9" width="8.2" height="8.3" fill="#fde5e1"/>
<rect x="101.2" y="202.9" width="8.2" height="8.3" fill="#feece8"/>
<rect x="109.2" y="202.9" width="8.2" height="8.3" fill="#fde5e1"/>
<rect x="117.2" y="202.9" width="63.9" height="8.3" fill="#feece8"/>
<rect x="180.8" y="202.9" width="95.7" height="8.3" fill="#fef1ed"/>
<rect x="37.6" y="210.9" width="32.1" height="8.3" fill="#feece8"/>
<rect x="69.5" y="210.9" width="8.2" height="8.3" fill="#fde5e1"/>
<rect x="77.4" y="210.9" width="8.2" height="8.3" fill="#feece8"/>
<rect x="85.3" y="210.9" width="8.2" height="8.3" fill="#fde5e1"/>
<rect x="93.3" y="210.9" width="87.8" height="8.3" fill="#feece8"/>
<rect x="180.8" y="210.9" width="95.7" height="8.3" fill="#fef1ed"/>
<rect x="37.6" y="218.9" width="48.0" height="8.3" fill="#feece8"/>
<rect x="85.3" y="218.9" width="16.2" height="8.3" fill="#fde5e1"/>
<rect x="101.2" y="218.9" width="79.8" height="8.3" fill="#feece8"/>
<rect x="180.8" y="218.9" width="95.7" height="8.3" fill="#fef1ed"/>
<rect x="37.6" y="226.8" width="55.9" height="8.3" fill="#feece8"/>
<rect x="93.3" y="226.8" width="8.2" height="8.3" fill="#fde5e1"/>
<rect x="101.2" y="226.8" width="79.8" height="8.3" fill="#feece8"/>
<rect x="180.8" y="226.8" width="95.7" height="8.3" fill="#fef1ed"/>
<rect x="37.6" y="234.8" width="55.9" height="8.3" fill="#feece8"/>
<rect x="93.3" y="234.8" width="8.2" height="8.3" fill="#fde5e1"/>
<rect x="101.2" y="234.8" width="79.8" height="8.3" fill="#feece8"/>
<rect x="180.8" y="234.8" width="95.7" height="8.3" fill="#fef1ed"/>
<rect x="141.0" y="35.0" width="40.0" height="26.6" fill="#fde5e1"/>
<rect x="102.4" y="147.5" width="42.5" height="15.4" fill="#fde5e1"/>
<rect x="141.0" y="61.6" width="40.0" height="33.0" fill="#fdd4d0"/>
<rect x="125.9" y="138.5" width="19.0" height="9.0" fill="#fdd4d0"/>
<rect x="90.8" y="61.9" width="23.4" height="29.2" fill="#fcd0cc"/>
<rect x="63.1" y="107.2" width="9.5" height="8.0" fill="#fccbc7"/>
<rect x="102.4" y="120.4" width="42.5" height="18.1" fill="#fccbc7"/>
<rect x="64.3" y="107.6" width="8.0" height="8.0" fill="#fddbd7"/>
<rect x="55.5" y="27.5" width="6.0" height="8.0" fill="#fddbd7"/>
<rect x="92.9" y="36.3" width="10.0" height="6.0" fill="#f87ea9"/>
<rect x="95.3" y="34.3" width="6.0" height="6.0" fill="#fcd0cc"/>
<rect x="77.0" y="39.4" width="6.0" height="8.0" fill="#fdd5d1"/>
<rect x="139.0" y="99.2" width="8.0" height="6.0" fill="#f994b1"/>
<rect x="202.6" y="25.5" width="6.0" height="8.0" fill="#f989ad"/>
<rect x="195.4" y="43.4" width="6.0" height="6.0" fill="#f994b1"/>
<rect x="203.4" y="60.6" width="6.0" height="6.0" fill="#fcc5c0"/>
<rect x="223.3" y="95.2" width="6.0" height="8.0" fill="#fcd0cc"/>
<rect x="212.9" y="118.4" width="6.0" height="6.0" fill="#fcd0cc"/>
<rect x="166.8" y="27.5" width="6.0" height="6.0" fill="#fcc5c0"/>
<rect x="86.5" y="161.4" width="6.0" height="8.0" fill="#f994b1"/>
<rect x="63.5" y="201.2" width="8.0" height="8.0" fill="#faa7b7"/>
<rect x="94.5" y="135.1" width="6.0" height="6.0" fill="#f989ad"/>
<rect x="147.7" y="140.3" width="6.0" height="6.0" fill="#faa7b7"/>
<rect x="145.4" y="145.1" width="6.0" height="6.0" fill="#f994b1"/>
<rect x="118.3" y="164.2" width="6.0" height="6.0" fill="#fcc5c0"/>
<rect x="72.2" y="227.9" width="6.0" height="6.0" fill="#fbb6bc"/>
<rect x="90.5" y="204.8" width="6.0" height="6.0" fill="#fcc5c0"/>
<rect x="164.4" y="190.5" width="6.0" height="6.0" fill="#f989ad"/>
<rect x="90.8" y="60.9" width="9.8" height="9.8" fill="#fcc5c0"/>
<rect x="92.3" y="61.4" width="7.9" height="8.4" fill="#fa9fb5"/>
<rect x="93.7" y="67.7" width="8.9" height="7.9" fill="#fbb6bc"/>
<rect x="95.7" y="71.6" width="8.4" height="12.3" fill="#fa9fb5"/>
<rect x="96.6" y="77.4" width="7.4" height="7.4" fill="#f882ab"/>
<rect x="100.5" y="77.4" width="7.4" height="8.9" fill="#f994b1"/>
<rect x="101.0" y="82.3" width="6.9" height="9.8" fill="#fccac6"/>
<rect x="116.1" y="67.7" width="6.9" height="7.4" fill="#f989ad"/>
<rect x="123.9" y="67.7" width="8.9" height="7.9" fill="#fddbd7"/>
<rect x="103.9" y="69.7" width="6.4" height="7.9" fill="#fdd5d1"/>
<rect x="148.0" y="43.6" width="8.8" height="6.1" fill="#fbb6bc"/>
<rect x="151.2" y="34.1" width="6.1" height="6.1" fill="#fcd0cc"/>
<rect x="168.3" y="45.8" width="6.7" height="8.3" fill="#f87ea9"/>
<rect x="160.8" y="63.3" width="6.7" height="6.1" fill="#f87ea9"/>
<rect x="143.3" y="63.9" width="6.7" height="5.6" fill="#fcbdbe"/>
<rect x="145.9" y="74.0" width="6.7" height="6.1" fill="#fbaeb9"/>
<rect x="156.0" y="71.8" width="7.2" height="6.1" fill="#fbb6bc"/>
<rect x="153.9" y="79.8" width="6.7" height="5.6" fill="#fcbdbe"/>
<rect x="158.7" y="79.8" width="8.3" height="8.3" fill="#f989ad"/>
<rect x="158.1" y="84.1" width="7.2" height="7.7" fill="#f87aa7"/>
<rect x="166.1" y="78.2" width="6.1" height="5.6" fill="#fcc5c0"/>
<rect x="154.4" y="54.3" width="5.6" height="5.1" fill="#fcd0cc"/>
<rect x="110.8" y="131.1" width="7.2" height="7.6" fill="#f989ad"/>
<rect x="115.8" y="131.1" width="9.4" height="8.1" fill="#f994b1"/>
<rect x="128.5" y="129.7" width="6.3" height="6.7" fill="#fcbdbe"/>
<rect x="128.9" y="133.3" width="5.8" height="7.2" fill="#f989ad"/>
<rect x="128.5" y="141.0" width="6.7" height="6.3" fill="#faa7b7"/>
<rect x="143.8" y="143.7" width="7.2" height="7.2" fill="#f989ad"/>
<rect x="95.0" y="134.7" width="5.4" height="6.3" fill="#f989ad"/>
<rect x="133.0" y="132.0" width="6.7" height="5.4" fill="#fcd0cc"/>
<rect x="100.4" y="118.4" width="6.7" height="5.8" fill="#fcd0cc"/>
</g></g>
<rect x="66.3" y="109.6" width="4.0" height="4.0" fill="#fbb6bc"/>
<rect x="57.5" y="29.5" width="2.0" height="4.0" fill="#fbb6bc"/>
<rect x="125.9" y="69.7" width="4.9" height="3.9" fill="#fbb6bc"/>
<rect x="79.0" y="41.4" width="2.0" height="4.0" fill="#faa7b7"/>
<rect x="105.9" y="71.7" width="2.4" height="3.9" fill="#faa7b7"/>
<rect x="97.3" y="36.3" width="2.0" height="2.0" fill="#f994b1"/>
<rect x="225.3" y="97.2" width="2.0" height="4.0" fill="#f994b1"/>
<rect x="214.9" y="120.4" width="2.0" height="2.0" fill="#f994b1"/>
<rect x="153.2" y="36.1" width="2.1" height="2.1" fill="#f994b1"/>
<rect x="156.4" y="56.3" width="1.6" height="1.1" fill="#f994b1"/>
<rect x="135.0" y="134.0" width="2.7" height="1.4" fill="#f994b1"/>
<rect x="102.4" y="120.4" width="2.7" height="1.8" fill="#f994b1"/>
<rect x="103.0" y="84.3" width="2.9" height="5.8" fill="#f87ea9"/>
<rect x="205.4" y="62.6" width="2.0" height="2.0" fill="#f768a1"/>
<rect x="168.8" y="29.5" width="2.0" height="2.0" fill="#f768a1"/>
<rect x="120.3" y="166.2" width="2.0" height="2.0" fill="#f768a1"/>
<rect x="92.5" y="206.8" width="2.0" height="2.0" fill="#f768a1"/>
<rect x="92.8" y="62.9" width="5.8" height="5.8" fill="#f768a1"/>
<rect x="93.3" y="63.4" width="1.99" height="1.99" fill="#f881aa"/>
<rect x="95.3" y="63.4" width="1.99" height="1.99" fill="#e13c99"/>
<rect x="97.3" y="63.4" width="1.99" height="1.99" fill="#faa7b7"/>
<rect x="93.3" y="65.4" width="1.99" height="1.99" fill="#e6479b"/>
<rect x="95.3" y="65.4" width="1.99" height="1.99" fill="#f989ad"/>
<rect x="97.3" y="65.4" width="1.99" height="1.99" fill="#faa3b6"/>
<rect x="93.3" y="67.4" width="1.99" height="1.99" fill="#f98cae"/>
<rect x="168.1" y="80.2" width="2.1" height="1.6" fill="#f768a1"/>
<rect x="145.3" y="65.9" width="2.7" height="1.6" fill="#ed539d"/>
<rect x="155.9" y="81.8" width="2.7" height="1.6" fill="#ed539d"/>
<rect x="130.5" y="131.7" width="2.3" height="2.7" fill="#ed539d"/>
<rect x="74.2" y="229.9" width="2.0" height="2.0" fill="#e23e99"/>
<rect x="95.7" y="69.7" width="4.9" height="3.9" fill="#e23e99"/>
<rect x="150.0" y="45.6" width="4.8" height="2.1" fill="#e23e99"/>
<rect x="158.0" y="73.8" width="3.2" height="2.1" fill="#e23e99"/>
<rect x="147.9" y="76.0" width="2.7" height="2.1" fill="#d42a92"/>
<rect x="65.5" y="203.2" width="4.0" height="4.0" fill="#c11588"/>
<rect x="149.7" y="142.3" width="2.0" height="2.0" fill="#c11588"/>
<rect x="130.5" y="143.0" width="2.7" height="2.3" fill="#c11588"/>
<rect x="94.3" y="63.4" width="3.9" height="4.4" fill="#ae017e"/>
<rect x="97.7" y="73.6" width="4.4" height="8.3" fill="#ae017e"/>
<rect x="141.0" y="101.2" width="4.0" height="2.0" fill="#99017b"/>
<rect x="197.4" y="45.4" width="2.0" height="2.0" fill="#99017b"/>
<rect x="88.5" y="163.4" width="2.0" height="4.0" fill="#99017b"/>
<rect x="147.4" y="147.1" width="2.0" height="2.0" fill="#99017b"/>
<rect x="102.5" y="79.4" width="3.4" height="4.9" fill="#99017b"/>
<rect x="117.8" y="133.1" width="5.4" height="4.1" fill="#99017b"/>
<rect x="204.6" y="27.5" width="2.0" height="4.0" fill="#840178"/>
<rect x="96.5" y="137.1" width="2.0" height="2.0" fill="#840178"/>
<rect x="166.4" y="192.5" width="2.0" height="2.0" fill="#840178"/>
<rect x="118.1" y="69.7" width="2.9" height="3.4" fill="#840178"/>
<rect x="160.7" y="81.8" width="4.3" height="4.3" fill="#840178"/>
<rect x="112.8" y="133.1" width="3.2" height="3.6" fill="#840178"/>
<rect x="130.9" y="135.3" width="1.8" height="3.2" fill="#840178"/>
<rect x="145.8" y="145.7" width="3.2" height="3.2" fill="#840178"/>
<rect x="97.0" y="136.7" width="1.4" height="2.3" fill="#840178"/>
<rect x="98.6" y="79.4" width="3.4" height="3.4" fill="#780176"/>
<rect x="94.9" y="38.3" width="6.0" height="2.0" fill="#700174"/>
<rect x="170.3" y="47.8" width="2.7" height="4.3" fill="#700174"/>
<rect x="162.8" y="65.3" width="2.7" height="2.1" fill="#700174"/>
<rect x="160.1" y="86.1" width="3.2" height="3.7" fill="#680172"/>
</g>
<use href="#geo"/>
<rect x="35.05" y="17.3" width="243.75" height="227.7" fill="none" stroke="#000" stroke-width="1.5"/>
<text x="78.90" y="9.00" font-size="12.3" textLength="28.80" lengthAdjust="spacingAndGlyphs" stroke="#000" stroke-width="0.3" >30°E</text>
<text x="78.90" y="260.70" font-size="12.3" textLength="28.80" lengthAdjust="spacingAndGlyphs" stroke="#000" stroke-width="0.3" >30°E</text>
<text x="158.40" y="9.00" font-size="12.3" textLength="28.80" lengthAdjust="spacingAndGlyphs" stroke="#000" stroke-width="0.3" >40°E</text>
<text x="158.40" y="260.70" font-size="12.3" textLength="28.80" lengthAdjust="spacingAndGlyphs" stroke="#000" stroke-width="0.3" >40°E</text>
<text x="237.90" y="9.00" font-size="12.3" textLength="28.80" lengthAdjust="spacingAndGlyphs" stroke="#000" stroke-width="0.3" >50°E</text>
<text x="237.90" y="260.70" font-size="12.3" textLength="28.80" lengthAdjust="spacingAndGlyphs" stroke="#000" stroke-width="0.3" >50°E</text>
<text x="-0.60" y="63.80" font-size="12.3" textLength="29.00" lengthAdjust="spacingAndGlyphs" stroke="#000" stroke-width="0.3" >10°N</text>
<text x="15.10" y="143.80" font-size="12.3" textLength="13.70" lengthAdjust="spacingAndGlyphs" stroke="#000" stroke-width="0.3" >0°</text>
<text x="0.30" y="223.80" font-size="12.3" textLength="28.60" lengthAdjust="spacingAndGlyphs" stroke="#000" stroke-width="0.3" >10°S</text>
<text x="4.36" y="37.30" font-size="13.8" textLength="19.19" lengthAdjust="spacingAndGlyphs" stroke="#000" stroke-width="0.3" >(a)</text>
</g>
<g transform="translate(292.5,0)">
<g clip-path="url(#cd)">
<rect x="45.6" y="27.5" width="222.60" height="207.30" fill="#fff6f2"/>
<g clip-path="url(#cl)"><g filter="url(#bl)">
<rect x="37.6" y="19.5" width="16.2" height="8.3" fill="#feece8"/>
<rect x="53.6" y="19.5" width="103.7" height="8.3" fill="#fef1ed"/>
<rect x="156.9" y="19.5" width="16.2" height="8.3" fill="#feece8"/>
<rect x="172.8" y="19.5" width="103.7" height="8.3" fill="#fef1ed"/>
<rect x="37.6" y="27.5" width="16.2" height="8.3" fill="#feece8"/>
<rect x="53.6" y="27.5" width="103.7" height="8.3" fill="#fef1ed"/>
<rect x="156.9" y="27.5" width="16.2" height="8.3" fill="#feece8"/>
<rect x="172.8" y="27.5" width="103.7" height="8.3" fill="#fef1ed"/>
<rect x="37.6" y="35.5" width="55.9" height="8.3" fill="#fef1ed"/>
<rect x="93.3" y="35.5" width="8.2" height="8.3" fill="#feece8"/>
<rect x="101.2" y="35.5" width="48.0" height="8.3" fill="#fef1ed"/>
<rect x="149.0" y="35.5" width="24.2" height="8.3" fill="#feece8"/>
<rect x="172.8" y="35.5" width="103.7" height="8.3" fill="#fef1ed"/>
<rect x="37.6" y="43.4" width="103.7" height="8.3" fill="#fef1ed"/>
<rect x="141.0" y="43.4" width="32.1" height="8.3" fill="#feece8"/>
<rect x="172.8" y="43.4" width="103.7" height="8.3" fill="#fef1ed"/>
<rect x="37.6" y="51.4" width="103.7" height="8.3" fill="#fef1ed"/>
<rect x="141.0" y="51.4" width="40.0" height="8.3" fill="#feece8"/>
<rect x="180.8" y="51.4" width="95.7" height="8.3" fill="#fef1ed"/>
<rect x="37.6" y="59.4" width="48.0" height="8.3" fill="#fef1ed"/>
<rect x="85.3" y="59.4" width="8.2" height="8.3" fill="#feece8"/>
<rect x="93.3" y="59.4" width="8.2" height="8.3" fill="#fddbd7"/>
<rect x="101.2" y="59.4" width="55.9" height="8.3" fill="#feece8"/>
<rect x="156.9" y="59.4" width="8.2" height="8.3" fill="#fde5e1"/>
<rect x="164.8" y="59.4" width="24.2" height="8.3" fill="#feece8"/>
<rect x="188.7" y="59.4" width="87.8" height="8.3" fill="#fef1ed"/>
<rect x="37.6" y="67.4" width="48.0" height="8.3" fill="#fef1ed"/>
<rect x="85.3" y="67.4" width="8.2" height="8.3" fill="#feece8"/>
<rect x="93.3" y="67.4" width="8.2" height="8.3" fill="#fccbc7"/>
<rect x="101.2" y="67.4" width="8.2" height="8.3" fill="#fde5e1"/>
<rect x="109.2" y="67.4" width="40.0" height="8.3" fill="#feece8"/>
<rect x="149.0" y="67.4" width="24.2" height="8.3" fill="#fde5e1"/>
<rect x="172.8" y="67.4" width="8.2" height="8.3" fill="#feece8"/>
<rect x="180.8" y="67.4" width="95.7" height="8.3" fill="#fef1ed"/>
<rect x="37.6" y="75.3" width="48.0" height="8.3" fill="#fef1ed"/>
<rect x="85.3" y="75.3" width="8.2" height="8.3" fill="#feece8"/>
<rect x="93.3" y="75.3" width="8.2" height="8.3" fill="#fddbd7"/>
<rect x="101.2" y="75.3" width="8.2" height="8.3" fill="#fde5e1"/>
<rect x="109.2" y="75.3" width="40.0" height="8.3" fill="#feece8"/>
<rect x="149.0" y="75.3" width="8.2" height="8.3" fill="#fde5e1"/>
<rect x="156.9" y="75.3" width="8.2" height="8.3" fill="#fddbd7"/>
<rect x="164.8" y="75.3" width="8.2" height="8.3" fill="#fde5e1"/>
<rect x="172.8" y="75.3" width="8.2" height="8.3" fill="#feece8"/>
<rect x="180.8" y="75.3" width="95.7" height="8.3" fill="#fef1ed"/>
<rect x="37.6" y="83.3" width="48.0" height="8.3" fill="#fef1ed"/>
<rect x="85.3" y="83.3" width="8.2" height="8.3" fill="#feece8"/>
<rect x="93.3" y="83.3" width="8.2" height="8.3" fill="#fde5e1"/>
<rect x="101.2" y="83.3" width="55.9" height="8.3" fill="#feece8"/>
<rect x="156.9" y="83.3" width="8.2" height="8.3" fill="#fddbd7"/>
<rect x="164.8" y="83.3" width="8.2" height="8.3" fill="#fde5e1"/>
<rect x="172.8" y="83.3" width="8.2" height="8.3" fill="#feece8"/>
<rect x="180.8" y="83.3" width="95.7" height="8.3" fill="#fef1ed"/>
<rect x="37.6" y="91.3" width="55.9" height="8.3" fill="#fef1ed"/>
<rect x="93.3" y="91.3" width="63.9" height="8.3" fill="#feece8"/>
<rect x="156.9" y="91.3" width="8.2" height="8.3" fill="#fde5e1"/>
<rect x="164.8" y="91.3" width="16.2" height="8.3" fill="#feece8"/>
<rect x="180.8" y="91.3" width="95.7" height="8.3" fill="#fef1ed"/>
<rect x="37.6" y="99.3" width="127.5" height="8.3" fill="#feece8"/>
<rect x="164.8" y="99.3" width="111.6" height="8.3" fill="#fef1ed"/>
<rect x="37.6" y="107.2" width="32.1" height="8.3" fill="#feece8"/>
<rect x="69.5" y="107.2" width="8.2" height="8.3" fill="#fde5e1"/>
<rect x="77.4" y="107.2" width="87.8" height="8.3" fill="#feece8"/>
<rect x="164.8" y="107.2" width="111.6" height="8.3" fill="#fef1ed"/>
<rect x="37.6" y="115.2" width="63.9" height="8.3" fill="#feece8"/>
<rect x="101.2" y="115.2" width="32.1" height="8.3" fill="#fde5e1"/>
<rect x="133.1" y="115.2" width="32.1" height="8.3" fill="#feece8"/>
<rect x="164.8" y="115.2" width="111.6" height="8.3" fill="#fef1ed"/>
<rect x="37.6" y="123.2" width="63.9" height="8.3" fill="#feece8"/>
<rect x="101.2" y="123.2" width="8.2" height="8.3" fill="#fde5e1"/>
<rect x="109.2" y="123.2" width="16.2" height="8.3" fill="#fddbd7"/>
<rect x="125.1" y="123.2" width="16.2" height="8.3" fill="#fde5e1"/>
<rect x="141.0" y="123.2" width="24.2" height="8.3" fill="#feece8"/>
<rect x="164.8" y="123.2" width="111.6" height="8.3" fill="#fef1ed"/>
<rect x="37.6" y="131.2" width="55.9" height="8.3" fill="#feece8"/>
<rect x="93.3" y="131.2" width="16.2" height="8.3" fill="#fde5e1"/>
<rect x="109.2" y="131.2" width="32.1" height="8.3" fill="#fddbd7"/>
<rect x="141.0" y="131.2" width="24.2" height="8.3" fill="#fde5e1"/>
<rect x="164.8" y="131.2" width="16.2" height="8.3" fill="#feece8"/>
<rect x="180.8" y="131.2" width="95.7" height="8.3" fill="#fef1ed"/>
<rect x="37.6" y="139.1" width="55.9" height="8.3" fill="#feece8"/>
<rect x="93.3" y="139.1" width="8.2" height="8.3" fill="#fde5e1"/>
<rect x="101.2" y="139.1" width="24.2" height="8.3" fill="#feece8"/>
<rect x="125.1" y="139.1" width="8.2" height="8.3" fill="#fddbd7"/>
<rect x="133.1" y="139.1" width="32.1" height="8.3" fill="#fde5e1"/>
<rect x="164.8" y="139.1" width="16.2" height="8.3" fill="#feece8"/>
<rect x="180.8" y="139.1" width="95.7" height="8.3" fill="#fef1ed"/>
<rect x="37.6" y="147.1" width="48.0" height="8.3" fill="#feece8"/>
<rect x="85.3" y="147.1" width="16.2" height="8.3" fill="#fde5e1"/>
<rect x="101.2" y="147.1" width="24.2" height="8.3" fill="#feece8"/>
<rect x="125.1" y="147.1" width="32.1" height="8.3" fill="#fde5e1"/>
<rect x="156.9" y="147.1" width="24.2" height="8.3" fill="#feece8"/>
<rect x="180.8" y="147.1" width="95.7" height="8.3" fill="#fef1ed"/>
<rect x="37.6" y="155.1" width="16.2" height="8.3" fill="#feece8"/>
<rect x="53.6" y="155.1" width="8.2" height="8.3" fill="#fde5e1"/>
<rect x="61.5" y="155.1" width="24.2" height="8.3" fill="#feece8"/>
<rect x="85.3" y="155.1" width="16.2" height="8.3" fill="#fde5e1"/>
<rect x="101.2" y="155.1" width="79.8" height="8.3" fill="#feece8"/>
<rect x="180.8" y="155.1" width="95.7" height="8.3" fill="#fef1ed"/>
<rect x="37.6" y="163.0" width="16.2" height="8.3" fill="#feece8"/>
<rect x="53.6" y="163.0" width="8.2" height="8.3" fill="#fde5e1"/>
<rect x="61.5" y="163.0" width="119.5" height="8.3" fill="#feece8"/>
<rect x="180.8" y="163.0" width="95.7" height="8.3" fill="#fef1ed"/>
<rect x="37.6" y="171.0" width="143.4" height="8.3" fill="#feece8"/>
<rect x="180.8" y="171.0" width="95.7" height="8.3" fill="#fef1ed"/>
<rect x="37.6" y="179.0" width="143.4" height="8.3" fill="#feece8"/>
<rect x="180.8" y="179.0" width="95.7" height="8.3" fill="#fef1ed"/>
<rect x="37.6" y="187.0" width="143.4" height="8.3" fill="#feece8"/>
<rect x="180.8" y="187.0" width="95.7" height="8.3" fill="#fef1ed"/>
<rect x="37.6" y="194.9" width="143.4" height="8.3" fill="#feece8"/>
<rect x="180.8" y="194.9" width="95.7" height="8.3" fill="#fef1ed"/>
<rect x="37.6" y="202.9" width="24.2" height="8.3" fill="#feece8"/>
<rect x="61.5" y="202.9" width="16.2" height="8.3" fill="#fde5e1"/>
<rect x="77.4" y="202.9" width="16.2" height="8.3" fill="#feece8"/>
<rect x="93.3" y="202.9" width="8.2" height="8.3" fill="#fde5e1"/>
<rect x="101.2" y="202.9" width="79.8" height="8.3" fill="#feece8"/>
<rect x="180.8" y="202.9" width="95.7" height="8.3" fill="#fef1ed"/>
<rect x="37.6" y="210.9" width="143.4" height="8.3" fill="#feece8"/>
<rect x="180.8" y="210.9" width="95.7" height="8.3" fill="#fef1ed"/>
<rect x="37.6" y="218.9" width="143.4" height="8.3" fill="#feece8"/>
<rect x="180.8" y="218.9" width="95.7" height="8.3" fill="#fef1ed"/>
<rect x="37.6" y="226.8" width="143.4" height="8.3" fill="#feece8"/>
<rect x="180.8" y="226.8" width="95.7" height="8.3" fill="#fef1ed"/>
<rect x="37.6" y="234.8" width="143.4" height="8.3" fill="#feece8"/>
<rect x="180.8" y="234.8" width="95.7" height="8.3" fill="#fef1ed"/>
<rect x="141.5" y="35.0" width="40.0" height="26.6" fill="#fee8e5"/>
<rect x="102.9" y="147.5" width="41.6" height="15.4" fill="#fee8e5"/>
<rect x="124.4" y="69.7" width="5.8" height="5.8" fill="#fddbd7"/>
<rect x="141.5" y="61.6" width="40.0" height="33.0" fill="#fddbd7"/>
<rect x="124.6" y="138.5" width="19.9" height="8.1" fill="#fddbd7"/>
<rect x="63.1" y="107.2" width="9.5" height="8.0" fill="#fdd8d5"/>
<rect x="105.0" y="70.7" width="4.9" height="4.9" fill="#fcd0cc"/>
<rect x="102.9" y="120.4" width="41.6" height="18.1" fill="#fcd0cc"/>
<rect x="91.3" y="62.9" width="11.7" height="20.4" fill="#fccbc7"/>
<rect x="92.9" y="35.5" width="10.0" height="6.0" fill="#f989ad"/>
<rect x="96.9" y="33.5" width="6.0" height="8.0" fill="#fbb6bc"/>
<rect x="77.0" y="41.4" width="6.0" height="8.0" fill="#f994b1"/>
<rect x="55.5" y="27.5" width="6.0" height="6.0" fill="#fddbd7"/>
<rect x="139.8" y="99.6" width="8.0" height="6.0" fill="#fcd0cc"/>
<rect x="185.1" y="59.4" width="6.0" height="6.0" fill="#fcc5c0"/>
<rect x="202.6" y="25.5" width="6.0" height="8.0" fill="#fdd5d1"/>
<rect x="145.4" y="145.1" width="6.0" height="6.0" fill="#f994b1"/>
<rect x="94.5" y="135.1" width="6.0" height="6.0" fill="#f994b1"/>
<rect x="147.7" y="140.3" width="6.0" height="6.0" fill="#fbb6bc"/>
<rect x="86.5" y="161.4" width="6.0" height="6.0" fill="#fcd0cc"/>
<rect x="63.5" y="201.2" width="8.0" height="8.0" fill="#fbb6bc"/>
<rect x="90.5" y="204.8" width="6.0" height="6.0" fill="#fcc5c0"/>
<rect x="118.3" y="164.2" width="6.0" height="6.0" fill="#fccac6"/>
<rect x="72.2" y="227.9" width="6.0" height="6.0" fill="#fcd0cc"/>
<rect x="164.4" y="190.5" width="6.0" height="6.0" fill="#fa9fb5"/>
<rect x="93.2" y="61.4" width="7.4" height="9.4" fill="#fcd0cc"/>
<rect x="93.2" y="67.2" width="7.4" height="9.8" fill="#fcc5c0"/>
<rect x="101.0" y="77.4" width="6.9" height="6.9" fill="#fdd5d1"/>
<rect x="116.1" y="68.2" width="6.4" height="6.9" fill="#fbb6bc"/>
<rect x="151.2" y="34.1" width="6.1" height="7.7" fill="#fbb6bc"/>
<rect x="148.5" y="43.6" width="8.8" height="6.1" fill="#f989ad"/>
<rect x="168.2" y="45.8" width="6.7" height="8.3" fill="#f87ea9"/>
<rect x="160.8" y="63.9" width="6.7" height="5.6" fill="#f87ea9"/>
<rect x="166.1" y="66.0" width="6.1" height="5.6" fill="#fcd0cc"/>
<rect x="145.9" y="74.0" width="6.7" height="6.1" fill="#fbb6bc"/>
<rect x="154.9" y="71.8" width="7.7" height="6.1" fill="#fcbdbe"/>
<rect x="153.3" y="75.6" width="7.2" height="10.4" fill="#f87ea9"/>
<rect x="160.8" y="80.3" width="6.7" height="7.7" fill="#fbb6bc"/>
<rect x="158.6" y="79.8" width="6.7" height="11.4" fill="#f87aa7"/>
<rect x="151.2" y="86.2" width="6.1" height="6.1" fill="#fdd5d1"/>
<rect x="110.9" y="131.1" width="6.7" height="7.6" fill="#f989ad"/>
<rect x="115.8" y="131.1" width="9.9" height="7.6" fill="#f994b1"/>
<rect x="128.0" y="129.7" width="6.7" height="11.2" fill="#f994b1"/>
<rect x="128.5" y="139.2" width="8.1" height="7.6" fill="#f994b1"/>
<rect x="144.3" y="144.6" width="7.2" height="6.3" fill="#f989ad"/>
<rect x="95.5" y="134.7" width="4.9" height="5.8" fill="#f989ad"/>
<rect x="113.1" y="121.1" width="7.2" height="7.6" fill="#fcd0cc"/>
<rect x="100.9" y="118.4" width="6.7" height="5.8" fill="#fccac6"/>
<rect x="113.6" y="157.3" width="6.3" height="5.8" fill="#fcbdbe"/>
</g></g>
<rect x="57.5" y="29.5" width="2.0" height="2.0" fill="#fbb6bc"/>
<rect x="204.6" y="27.5" width="2.0" height="4.0" fill="#faa7b7"/>
<rect x="103.0" y="79.4" width="2.9" height="2.9" fill="#faa7b7"/>
<rect x="153.2" y="88.2" width="2.1" height="2.1" fill="#faa7b7"/>
<rect x="141.8" y="101.6" width="4.0" height="2.0" fill="#f994b1"/>
<rect x="88.5" y="163.4" width="2.0" height="2.0" fill="#f994b1"/>
<rect x="74.2" y="229.9" width="2.0" height="2.0" fill="#f994b1"/>
<rect x="95.2" y="63.4" width="3.4" height="5.4" fill="#f994b1"/>
<rect x="168.1" y="68.0" width="2.1" height="1.6" fill="#f994b1"/>
<rect x="115.1" y="123.1" width="3.2" height="3.6" fill="#f994b1"/>
<rect x="120.3" y="166.2" width="2.0" height="2.0" fill="#f87ea9"/>
<rect x="102.9" y="120.4" width="2.7" height="1.8" fill="#f87ea9"/>
<rect x="187.1" y="61.4" width="2.0" height="2.0" fill="#f768a1"/>
<rect x="92.5" y="206.8" width="2.0" height="2.0" fill="#f768a1"/>
<rect x="95.2" y="69.2" width="3.4" height="5.8" fill="#f768a1"/>
<rect x="156.9" y="73.8" width="3.7" height="2.1" fill="#ed539d"/>
<rect x="115.6" y="159.3" width="2.3" height="1.8" fill="#ed539d"/>
<rect x="98.9" y="35.5" width="2.0" height="4.0" fill="#e23e99"/>
<rect x="149.7" y="142.3" width="2.0" height="2.0" fill="#e23e99"/>
<rect x="65.5" y="203.2" width="4.0" height="4.0" fill="#e23e99"/>
<rect x="118.1" y="70.2" width="2.4" height="2.9" fill="#e23e99"/>
<rect x="153.2" y="36.1" width="2.1" height="3.7" fill="#e23e99"/>
<rect x="147.9" y="76.0" width="2.7" height="2.1" fill="#e23e99"/>
<rect x="162.8" y="82.3" width="2.7" height="3.7" fill="#e23e99"/>
<rect x="166.4" y="192.5" width="2.0" height="2.0" fill="#ae017e"/>
<rect x="79.0" y="43.4" width="2.0" height="4.0" fill="#99017b"/>
<rect x="147.4" y="147.1" width="2.0" height="2.0" fill="#99017b"/>
<rect x="96.5" y="137.1" width="2.0" height="2.0" fill="#99017b"/>
<rect x="117.8" y="133.1" width="5.9" height="3.6" fill="#99017b"/>
<rect x="130.0" y="131.7" width="2.7" height="7.2" fill="#99017b"/>
<rect x="130.5" y="141.2" width="4.1" height="3.6" fill="#99017b"/>
<rect x="94.9" y="37.5" width="6.0" height="2.0" fill="#840178"/>
<rect x="150.5" y="45.6" width="4.8" height="2.1" fill="#840178"/>
<rect x="112.9" y="133.1" width="2.7" height="3.6" fill="#840178"/>
<rect x="146.3" y="146.6" width="3.2" height="2.3" fill="#840178"/>
<rect x="97.5" y="136.7" width="0.9" height="1.8" fill="#840178"/>
<rect x="170.2" y="47.8" width="2.7" height="4.3" fill="#700174"/>
<rect x="162.8" y="65.9" width="2.7" height="1.6" fill="#700174"/>
<rect x="155.3" y="77.6" width="3.2" height="6.4" fill="#700174"/>
<rect x="160.6" y="81.8" width="2.7" height="7.4" fill="#680172"/>
</g>
<use href="#geo"/>
<rect x="35.05" y="17.3" width="243.75" height="227.7" fill="none" stroke="#000" stroke-width="1.5"/>
<text x="78.90" y="9.00" font-size="12.3" textLength="28.80" lengthAdjust="spacingAndGlyphs" stroke="#000" stroke-width="0.3" >30°E</text>
<text x="78.90" y="260.70" font-size="12.3" textLength="28.80" lengthAdjust="spacingAndGlyphs" stroke="#000" stroke-width="0.3" >30°E</text>
<text x="158.40" y="9.00" font-size="12.3" textLength="28.80" lengthAdjust="spacingAndGlyphs" stroke="#000" stroke-width="0.3" >40°E</text>
<text x="158.40" y="260.70" font-size="12.3" textLength="28.80" lengthAdjust="spacingAndGlyphs" stroke="#000" stroke-width="0.3" >40°E</text>
<text x="237.90" y="9.00" font-size="12.3" textLength="28.80" lengthAdjust="spacingAndGlyphs" stroke="#000" stroke-width="0.3" >50°E</text>
<text x="237.90" y="260.70" font-size="12.3" textLength="28.80" lengthAdjust="spacingAndGlyphs" stroke="#000" stroke-width="0.3" >50°E</text>
<text x="-0.60" y="63.80" font-size="12.3" textLength="29.00" lengthAdjust="spacingAndGlyphs" stroke="#000" stroke-width="0.3" >10°N</text>
<text x="15.10" y="143.80" font-size="12.3" textLength="13.70" lengthAdjust="spacingAndGlyphs" stroke="#000" stroke-width="0.3" >0°</text>
<text x="0.30" y="223.80" font-size="12.3" textLength="28.60" lengthAdjust="spacingAndGlyphs" stroke="#000" stroke-width="0.3" >10°S</text>
<text x="4.36" y="37.30" font-size="13.8" textLength="19.19" lengthAdjust="spacingAndGlyphs" stroke="#000" stroke-width="0.3" >(b)</text>
</g>
<g transform="translate(0,290.5)">
<g clip-path="url(#cd)">
<rect x="45.6" y="27.5" width="222.60" height="207.30" fill="#fff6f2"/>
<g clip-path="url(#cl)"><g filter="url(#bl)">
<rect x="37.6" y="19.5" width="119.5" height="8.3" fill="#feece8"/>
<rect x="156.9" y="19.5" width="8.2" height="8.3" fill="#fde5e1"/>
<rect x="164.8" y="19.5" width="8.2" height="8.3" fill="#feece8"/>
<rect x="172.8" y="19.5" width="24.2" height="8.3" fill="#fef1ed"/>
<rect x="196.7" y="19.5" width="24.2" height="8.3" fill="#feece8"/>
<rect x="220.5" y="19.5" width="55.9" height="8.3" fill="#fef1ed"/>
<rect x="37.6" y="27.5" width="119.5" height="8.3" fill="#feece8"/>
<rect x="156.9" y="27.5" width="8.2" height="8.3" fill="#fde5e1"/>
<rect x="164.8" y="27.5" width="8.2" height="8.3" fill="#feece8"/>
<rect x="172.8" y="27.5" width="24.2" height="8.3" fill="#fef1ed"/>
<rect x="196.7" y="27.5" width="24.2" height="8.3" fill="#feece8"/>
<rect x="220.5" y="27.5" width="55.9" height="8.3" fill="#fef1ed"/>
<rect x="37.6" y="35.5" width="55.9" height="8.3" fill="#feece8"/>
<rect x="93.3" y="35.5" width="8.2" height="8.3" fill="#fde5e1"/>
<rect x="101.2" y="35.5" width="55.9" height="8.3" fill="#feece8"/>
<rect x="156.9" y="35.5" width="8.2" height="8.3" fill="#fde5e1"/>
<rect x="164.8" y="35.5" width="16.2" height="8.3" fill="#feece8"/>
<rect x="180.8" y="35.5" width="95.7" height="8.3" fill="#fef1ed"/>
<rect x="37.6" y="43.4" width="40.0" height="8.3" fill="#feece8"/>
<rect x="77.4" y="43.4" width="8.2" height="8.3" fill="#fde5e1"/>
<rect x="85.3" y="43.4" width="40.0" height="8.3" fill="#feece8"/>
<rect x="125.1" y="43.4" width="8.2" height="8.3" fill="#fde5e1"/>
<rect x="133.1" y="43.4" width="16.2" height="8.3" fill="#feece8"/>
<rect x="149.0" y="43.4" width="16.2" height="8.3" fill="#fde5e1"/>
<rect x="164.8" y="43.4" width="24.2" height="8.3" fill="#feece8"/>
<rect x="188.7" y="43.4" width="87.8" height="8.3" fill="#fef1ed"/>
<rect x="37.6" y="51.4" width="16.2" height="8.3" fill="#fef1ed"/>
<rect x="53.6" y="51.4" width="95.7" height="8.3" fill="#feece8"/>
<rect x="149.0" y="51.4" width="16.2" height="8.3" fill="#fde5e1"/>
<rect x="164.8" y="51.4" width="87.8" height="8.3" fill="#feece8"/>
<rect x="252.3" y="51.4" width="24.2" height="8.3" fill="#fef1ed"/>
<rect x="37.6" y="59.4" width="55.9" height="8.3" fill="#feece8"/>
<rect x="93.3" y="59.4" width="8.2" height="8.3" fill="#fccbc7"/>
<rect x="101.2" y="59.4" width="8.2" height="8.3" fill="#fddbd7"/>
<rect x="109.2" y="59.4" width="48.0" height="8.3" fill="#fde5e1"/>
<rect x="156.9" y="59.4" width="8.2" height="8.3" fill="#fddbd7"/>
<rect x="164.8" y="59.4" width="8.2" height="8.3" fill="#fde5e1"/>
<rect x="172.8" y="59.4" width="8.2" height="8.3" fill="#feece8"/>
<rect x="180.8" y="59.4" width="8.2" height="8.3" fill="#fde5e1"/>
<rect x="188.7" y="59.4" width="71.8" height="8.3" fill="#feece8"/>
<rect x="260.2" y="59.4" width="16.2" height="8.3" fill="#fef1ed"/>
<rect x="37.6" y="67.4" width="48.0" height="8.3" fill="#feece8"/>
<rect x="85.3" y="67.4" width="8.2" height="8.3" fill="#fde5e1"/>
<rect x="93.3" y="67.4" width="8.2" height="8.3" fill="#fbb3bb"/>
<rect x="101.2" y="67.4" width="8.2" height="8.3" fill="#fccbc7"/>
<rect x="109.2" y="67.4" width="8.2" height="8.3" fill="#fde5e1"/>
<rect x="117.2" y="67.4" width="16.2" height="8.3" fill="#fccbc7"/>
<rect x="133.1" y="67.4" width="16.2" height="8.3" fill="#fde5e1"/>
<rect x="149.0" y="67.4" width="16.2" height="8.3" fill="#fddbd7"/>
<rect x="164.8" y="67.4" width="8.2" height="8.3" fill="#fde5e1"/>
<rect x="172.8" y="67.4" width="87.8" height="8.3" fill="#feece8"/>
<rect x="260.2" y="67.4" width="16.2" height="8.3" fill="#fef1ed"/>
<rect x="37.6" y="75.3" width="48.0" height="8.3" fill="#feece8"/>
<rect x="85.3" y="75.3" width="8.2" height="8.3" fill="#fde5e1"/>
<rect x="93.3" y="75.3" width="16.2" height="8.3" fill="#fbb3bb"/>
<rect x="109.2" y="75.3" width="40.0" height="8.3" fill="#fde5e1"/>
<rect x="149.0" y="75.3" width="8.2" height="8.3" fill="#fddbd7"/>
<rect x="156.9" y="75.3" width="8.2" height="8.3" fill="#fccbc7"/>
<rect x="164.8" y="75.3" width="8.2" height="8.3" fill="#fde5e1"/>
<rect x="172.8" y="75.3" width="63.9" height="8.3" fill="#feece8"/>
<rect x="236.4" y="75.3" width="8.2" height="8.3" fill="#fde5e1"/>
<rect x="244.3" y="75.3" width="16.2" height="8.3" fill="#feece8"/>
<rect x="260.2" y="75.3" width="16.2" height="8.3" fill="#fef1ed"/>
<rect x="37.6" y="83.3" width="55.9" height="8.3" fill="#feece8"/>
<rect x="93.3" y="83.3" width="16.2" height="8.3" fill="#fddbd7"/>
<rect x="109.2" y="83.3" width="8.2" height="8.3" fill="#fde5e1"/>
<rect x="117.2" y="83.3" width="24.2" height="8.3" fill="#feece8"/>
<rect x="141.0" y="83.3" width="16.2" height="8.3" fill="#fde5e1"/>
<rect x="156.9" y="83.3" width="8.2" height="8.3" fill="#fccbc7"/>
<rect x="164.8" y="83.3" width="8.2" height="8.3" fill="#fde5e1"/>
<rect x="172.8" y="83.3" width="79.8" height="8.3" fill="#feece8"/>
<rect x="252.3" y="83.3" width="24.2" height="8.3" fill="#fef1ed"/>
<rect x="37.6" y="91.3" width="55.9" height="8.3" fill="#feece8"/>
<rect x="93.3" y="91.3" width="16.2" height="8.3" fill="#fde5e1"/>
<rect x="109.2" y="91.3" width="32.1" height="8.3" fill="#feece8"/>
<rect x="141.0" y="91.3" width="16.2" height="8.3" fill="#fde5e1"/>
<rect x="156.9" y="91.3" width="8.2" height="8.3" fill="#fddbd7"/>
<rect x="164.8" y="91.3" width="8.2" height="8.3" fill="#fde5e1"/>
<rect x="172.8" y="91.3" width="55.9" height="8.3" fill="#feece8"/>
<rect x="228.4" y="91.3" width="8.2" height="8.3" fill="#fde5e1"/>
<rect x="236.4" y="91.3" width="16.2" height="8.3" fill="#feece8"/>
<rect x="252.3" y="91.3" width="24.2" height="8.3" fill="#fef1ed"/>
<rect x="37.6" y="99.3" width="16.2" height="8.3" fill="#feece8"/>
<rect x="53.6" y="99.3" width="16.2" height="8.3" fill="#fde5e1"/>
<rect x="69.5" y="99.3" width="71.8" height="8.3" fill="#feece8"/>
<rect x="141.0" y="99.3" width="16.2" height="8.3" fill="#fde5e1"/>
<rect x="156.9" y="99.3" width="63.9" height="8.3" fill="#feece8"/>
<rect x="220.5" y="99.3" width="8.2" height="8.3" fill="#fde5e1"/>
<rect x="228.4" y="99.3" width="16.2" height="8.3" fill="#feece8"/>
<rect x="244.3" y="99.3" width="32.1" height="8.3" fill="#fef1ed"/>
<rect x="37.6" y="107.2" width="16.2" height="8.3" fill="#fde5e1"/>
<rect x="53.6" y="107.2" width="8.2" height="8.3" fill="#fddbd7"/>
<rect x="61.5" y="107.2" width="8.2" height="8.3" fill="#fccbc7"/>
<rect x="69.5" y="107.2" width="8.2" height="8.3" fill="#fddbd7"/>
<rect x="77.4" y="107.2" width="8.2" height="8.3" fill="#fde5e1"/>
<rect x="85.3" y="107.2" width="55.9" height="8.3" fill="#feece8"/>
<rect x="141.0" y="107.2" width="8.2" height="8.3" fill="#fde5e1"/>
<rect x="149.0" y="107.2" width="95.7" height="8.3" fill="#feece8"/>
<rect x="244.3" y="107.2" width="32.1" height="8.3" fill="#fef1ed"/>
<rect x="37.6" y="115.2" width="16.2" height="8.3" fill="#feece8"/>
<rect x="53.6" y="115.2" width="24.2" height="8.3" fill="#fde5e1"/>
<rect x="77.4" y="115.2" width="32.1" height="8.3" fill="#feece8"/>
<rect x="109.2" y="115.2" width="32.1" height="8.3" fill="#fde5e1"/>
<rect x="141.0" y="115.2" width="63.9" height="8.3" fill="#feece8"/>
<rect x="204.6" y="115.2" width="16.2" height="8.3" fill="#fde5e1"/>
<rect x="220.5" y="115.2" width="16.2" height="8.3" fill="#feece8"/>
<rect x="236.4" y="115.2" width="40.0" height="8.3" fill="#fef1ed"/>
<rect x="37.6" y="123.2" width="63.9" height="8.3" fill="#feece8"/>
<rect x="101.2" y="123.2" width="8.2" height="8.3" fill="#fddbd7"/>
<rect x="109.2" y="123.2" width="8.2" height="8.3" fill="#fccbc7"/>
<rect x="117.2" y="123.2" width="8.2" height="8.3" fill="#fbb3bb"/>
<rect x="125.1" y="123.2" width="8.2" height="8.3" fill="#fccbc7"/>
<rect x="133.1" y="123.2" width="8.2" height="8.3" fill="#fddbd7"/>
<rect x="141.0" y="123.2" width="8.2" height="8.3" fill="#fde5e1"/>
<rect x="149.0" y="123.2" width="32.1" height="8.3" fill="#feece8"/>
<rect x="180.8" y="123.2" width="8.2" height="8.3" fill="#fde5e1"/>
<rect x="188.7" y="123.2" width="16.2" height="8.3" fill="#feece8"/>
<rect x="204.6" y="123.2" width="16.2" height="8.3" fill="#fde5e1"/>
<rect x="220.5" y="123.2" width="8.2" height="8.3" fill="#feece8"/>
<rect x="228.4" y="123.2" width="48.0" height="8.3" fill="#fef1ed"/>
<rect x="37.6" y="131.2" width="48.0" height="8.3" fill="#feece8"/>
<rect x="85.3" y="131.2" width="8.2" height="8.3" fill="#fde5e1"/>
<rect x="93.3" y="131.2" width="8.2" height="8.3" fill="#fddbd7"/>
<rect x="101.2" y="131.2" width="8.2" height="8.3" fill="#fccbc7"/>
<rect x="109.2" y="131.2" width="16.2" height="8.3" fill="#f98bae"/>
<rect x="125.1" y="131.2" width="8.2" height="8.3" fill="#fccbc7"/>
<rect x="133.1" y="131.2" width="16.2" height="8.3" fill="#fbb3bb"/>
<rect x="149.0" y="131.2" width="8.2" height="8.3" fill="#fccbc7"/>
<rect x="156.9" y="131.2" width="8.2" height="8.3" fill="#fddbd7"/>
<rect x="164.8" y="131.2" width="16.2" height="8.3" fill="#fde5e1"/>
<rect x="180.8" y="131.2" width="95.7" height="8.3" fill="#fef1ed"/>
<rect x="37.6" y="139.1" width="48.0" height="8.3" fill="#feece8"/>
<rect x="85.3" y="139.1" width="16.2" height="8.3" fill="#fde5e1"/>
<rect x="101.2" y="139.1" width="8.2" height="8.3" fill="#fddbd7"/>
<rect x="109.2" y="139.1" width="16.2" height="8.3" fill="#fde5e1"/>
<rect x="125.1" y="139.1" width="16.2" height="8.3" fill="#fccbc7"/>
<rect x="141.0" y="139.1" width="8.2" height="8.3" fill="#fbb3bb"/>
<rect x="149.0" y="139.1" width="8.2" height="8.3" fill="#fccbc7"/>
<rect x="156.9" y="139.1" width="8.2" height="8.3" fill="#fddbd7"/>
<rect x="164.8" y="139.1" width="16.2" height="8.3" fill="#fde5e1"/>
<rect x="180.8" y="139.1" width="95.7" height="8.3" fill="#fef1ed"/>
<rect x="37.6" y="147.1" width="48.0" height="8.3" fill="#feece8"/>
<rect x="85.3" y="147.1" width="55.9" height="8.3" fill="#fde5e1"/>
<rect x="141.0" y="147.1" width="16.2" height="8.3" fill="#fddbd7"/>
<rect x="156.9" y="147.1" width="16.2" height="8.3" fill="#fde5e1"/>
<rect x="172.8" y="147.1" width="8.2" height="8.3" fill="#fddbd7"/>
<rect x="180.8" y="147.1" width="95.7" height="8.3" fill="#fef1ed"/>
<rect x="37.6" y="155.1" width="48.0" height="8.3" fill="#feece8"/>
<rect x="85.3" y="155.1" width="16.2" height="8.3" fill="#fde5e1"/>
<rect x="101.2" y="155.1" width="24.2" height="8.3" fill="#feece8"/>
<rect x="125.1" y="155.1" width="55.9" height="8.3" fill="#fde5e1"/>
<rect x="180.8" y="155.1" width="95.7" height="8.3" fill="#fef1ed"/>
<rect x="37.6" y="163.0" width="48.0" height="8.3" fill="#feece8"/>
<rect x="85.3" y="163.0" width="16.2" height="8.3" fill="#fde5e1"/>
<rect x="101.2" y="163.0" width="24.2" height="8.3" fill="#feece8"/>
<rect x="125.1" y="163.0" width="8.2" height="8.3" fill="#fde5e1"/>
<rect x="133.1" y="163.0" width="8.2" height="8.3" fill="#fddbd7"/>
<rect x="141.0" y="163.0" width="16.2" height="8.3" fill="#fde5e1"/>
<rect x="156.9" y="163.0" width="8.2" height="8.3" fill="#feece8"/>
<rect x="164.8" y="163.0" width="16.2" height="8.3" fill="#fde5e1"/>
<rect x="180.8" y="163.0" width="95.7" height="8.3" fill="#fef1ed"/>
<rect x="37.6" y="171.0" width="127.5" height="8.3" fill="#feece8"/>
<rect x="164.8" y="171.0" width="16.2" height="8.3" fill="#fde5e1"/>
<rect x="180.8" y="171.0" width="95.7" height="8.3" fill="#fef1ed"/>
<rect x="37.6" y="179.0" width="95.7" height="8.3" fill="#feece8"/>
<rect x="133.1" y="179.0" width="8.2" height="8.3" fill="#fde5e1"/>
<rect x="141.0" y="179.0" width="24.2" height="8.3" fill="#feece8"/>
<rect x="164.8" y="179.0" width="16.2" height="8.3" fill="#fde5e1"/>
<rect x="180.8" y="179.0" width="95.7" height="8.3" fill="#fef1ed"/>
<rect x="37.6" y="187.0" width="16.2" height="8.3" fill="#fde5e1"/>
<rect x="53.6" y="187.0" width="79.8" height="8.3" fill="#feece8"/>
<rect x="133.1" y="187.0" width="8.2" height="8.3" fill="#fde5e1"/>
<rect x="141.0" y="187.0" width="16.2" height="8.3" fill="#feece8"/>
<rect x="156.9" y="187.0" width="24.2" height="8.3" fill="#fde5e1"/>
<rect x="180.8" y="187.0" width="95.7" height="8.3" fill="#fef1ed"/>
<rect x="37.6" y="194.9" width="71.8" height="8.3" fill="#feece8"/>
<rect x="109.2" y="194.9" width="8.2" height="8.3" fill="#fde5e1"/>
<rect x="117.2" y="194.9" width="16.2" height="8.3" fill="#feece8"/>
<rect x="133.1" y="194.9" width="16.2" height="8.3" fill="#fde5e1"/>
<rect x="149.0" y="194.9" width="8.2" height="8.3" fill="#feece8"/>
<rect x="156.9" y="194.9" width="8.2" height="8.3" fill="#fde5e1"/>
<rect x="164.8" y="194.9" width="16.2" height="8.3" fill="#feece8"/>
<rect x="180.8" y="194.9" width="95.7" height="8.3" fill="#fef1ed"/>
<rect x="37.6" y="202.9" width="16.2" height="8.3" fill="#feece8"/>
<rect x="53.6" y="202.9" width="16.2" height="8.3" fill="#fde5e1"/>
<rect x="69.5" y="202.9" width="16.2" height="8.3" fill="#feece8"/>
<rect x="85.3" y="202.9" width="16.2" height="8.3" fill="#fde5e1"/>
<rect x="101.2" y="202.9" width="32.1" height="8.3" fill="#feece8"/>
<rect x="133.1" y="202.9" width="16.2" height="8.3" fill="#fde5e1"/>
<rect x="149.0" y="202.9" width="32.1" height="8.3" fill="#feece8"/>
<rect x="180.8" y="202.9" width="95.7" height="8.3" fill="#fef1ed"/>
<rect x="37.6" y="210.9" width="40.0" height="8.3" fill="#feece8"/>
<rect x="77.4" y="210.9" width="16.2" height="8.3" fill="#fde5e1"/>
<rect x="93.3" y="210.9" width="87.8" height="8.3" fill="#feece8"/>
<rect x="180.8" y="210.9" width="95.7" height="8.3" fill="#fef1ed"/>
<rect x="37.6" y="218.9" width="143.4" height="8.3" fill="#feece8"/>
<rect x="180.8" y="218.9" width="95.7" height="8.3" fill="#fef1ed"/>
<rect x="37.6" y="226.8" width="143.4" height="8.3" fill="#feece8"/>
<rect x="180.8" y="226.8" width="95.7" height="8.3" fill="#fef1ed"/>
<rect x="37.6" y="234.8" width="143.4" height="8.3" fill="#feece8"/>
<rect x="180.8" y="234.8" width="95.7" height="8.3" fill="#fef1ed"/>
<rect x="101.5" y="146.1" width="43.4" height="16.3" fill="#fde1de"/>
<rect x="141.0" y="35.5" width="40.0" height="36.2" fill="#fddfdc"/>
<rect x="141.0" y="71.7" width="40.0" height="27.7" fill="#fcd0cc"/>
<rect x="90.8" y="62.4" width="21.4" height="27.3" fill="#fccbc7"/>
<rect x="101.5" y="119.0" width="43.4" height="16.3" fill="#fcc5c0"/>
<rect x="154.8" y="51.5" width="5.3" height="5.3" fill="#fbb6bc"/>
<rect x="54.7" y="25.5" width="6.0" height="8.0" fill="#fbb6bc"/>
<rect x="51.6" y="40.6" width="6.0" height="6.0" fill="#f994b1"/>
<rect x="77.0" y="40.6" width="6.0" height="8.0" fill="#fbb6bc"/>
<rect x="92.1" y="35.1" width="8.0" height="6.0" fill="#f989ad"/>
<rect x="96.9" y="38.3" width="6.0" height="8.0" fill="#f989ad"/>
<rect x="112.0" y="29.5" width="6.0" height="6.0" fill="#f994b1"/>
<rect x="127.1" y="41.4" width="6.0" height="6.0" fill="#f994b1"/>
<rect x="62.7" y="102.0" width="12.0" height="8.0" fill="#fcc5c0"/>
<rect x="139.8" y="99.6" width="8.0" height="6.0" fill="#f989ad"/>
<rect x="202.6" y="25.5" width="6.0" height="8.0" fill="#f87ea9"/>
<rect x="166.8" y="27.5" width="6.0" height="6.0" fill="#f989ad"/>
<rect x="194.7" y="43.0" width="6.0" height="6.0" fill="#fcc5c0"/>
<rect x="203.4" y="59.4" width="6.0" height="6.0" fill="#f989ad"/>
<rect x="185.1" y="59.4" width="6.0" height="6.0" fill="#fbb6bc"/>
<rect x="237.6" y="81.3" width="6.0" height="6.0" fill="#fcbdbe"/>
<rect x="223.3" y="95.2" width="6.0" height="8.0" fill="#f989ad"/>
<rect x="210.6" y="120.3" width="6.0" height="6.0" fill="#fbb6bc"/>
<rect x="212.9" y="118.0" width="6.0" height="6.0" fill="#f989ad"/>
<rect x="133.4" y="163.4" width="10.0" height="8.0" fill="#f994b1"/>
<rect x="86.5" y="149.0" width="6.0" height="8.0" fill="#f994b1"/>
<rect x="86.5" y="161.8" width="6.0" height="8.0" fill="#f994b1"/>
<rect x="61.1" y="203.2" width="6.0" height="8.0" fill="#fbb6bc"/>
<rect x="81.8" y="211.2" width="8.0" height="8.0" fill="#fbb6bc"/>
<rect x="89.7" y="204.8" width="6.0" height="6.0" fill="#f989ad"/>
<rect x="136.6" y="196.1" width="6.0" height="6.0" fill="#f989ad"/>
<rect x="143.0" y="202.4" width="6.0" height="6.0" fill="#fbb6bc"/>
<rect x="132.6" y="184.9" width="6.0" height="6.0" fill="#fbb6bc"/>
<rect x="173.2" y="153.0" width="8.0" height="8.0" fill="#f989ad"/>
<rect x="163.6" y="190.5" width="6.0" height="8.0" fill="#f989ad"/>
<rect x="166.0" y="181.7" width="6.0" height="6.0" fill="#fbb6bc"/>
<rect x="152.5" y="132.3" width="6.0" height="6.0" fill="#f989ad"/>
<rect x="145.4" y="142.7" width="6.0" height="6.0" fill="#f989ad"/>
<rect x="92.7" y="60.9" width="10.3" height="8.9" fill="#fbaeb9"/>
<rect x="93.7" y="61.4" width="8.9" height="6.9" fill="#f994b1"/>
<rect x="93.2" y="67.2" width="6.9" height="9.4" fill="#f994b1"/>
<rect x="97.6" y="72.6" width="8.9" height="7.4" fill="#fa9fb5"/>
<rect x="96.1" y="73.5" width="11.8" height="11.8" fill="#f87ea9"/>
<rect x="103.9" y="69.2" width="6.9" height="7.9" fill="#f989ad"/>
<rect x="101.0" y="81.3" width="6.9" height="8.4" fill="#fcc5c0"/>
<rect x="115.6" y="67.2" width="6.9" height="7.9" fill="#f87aa7"/>
<rect x="121.0" y="67.7" width="11.3" height="7.9" fill="#f994b1"/>
<rect x="121.0" y="71.6" width="7.9" height="7.4" fill="#fcbdbe"/>
<rect x="103.4" y="59.4" width="6.4" height="5.9" fill="#fcc5c0"/>
<rect x="96.6" y="89.6" width="7.9" height="7.9" fill="#fddbd7"/>
<rect x="151.2" y="33.5" width="6.1" height="7.2" fill="#fbb6bc"/>
<rect x="150.7" y="45.2" width="9.3" height="8.3" fill="#fbb6bc"/>
<rect x="151.2" y="43.1" width="6.1" height="6.1" fill="#f87ea9"/>
<rect x="168.3" y="45.2" width="6.7" height="7.7" fill="#faa7b7"/>
<rect x="160.8" y="63.3" width="6.7" height="6.1" fill="#f87ea9"/>
<rect x="166.1" y="65.4" width="6.1" height="6.1" fill="#fbb6bc"/>
<rect x="145.9" y="73.4" width="6.7" height="6.7" fill="#f87ea9"/>
<rect x="146.4" y="76.1" width="6.1" height="5.6" fill="#fbb6bc"/>
<rect x="155.0" y="71.8" width="7.7" height="8.3" fill="#fbb6bc"/>
<rect x="153.9" y="75.0" width="6.7" height="10.4" fill="#f87ea9"/>
<rect x="158.1" y="80.3" width="7.2" height="11.4" fill="#f87aa7"/>
<rect x="156.6" y="88.8" width="7.7" height="8.3" fill="#fcbdbe"/>
<rect x="111.3" y="119.7" width="13.9" height="20.3" fill="#fbb6bc"/>
<rect x="113.1" y="121.1" width="11.2" height="17.1" fill="#f882ab"/>
<rect x="104.0" y="133.3" width="11.2" height="10.3" fill="#faa7b7"/>
<rect x="124.8" y="132.4" width="20.3" height="15.8" fill="#fbb6bc"/>
<rect x="128.5" y="136.9" width="10.3" height="10.3" fill="#f87ea9"/>
<rect x="124.8" y="125.2" width="8.5" height="7.6" fill="#fcc5c0"/>
<rect x="95.0" y="133.3" width="9.4" height="7.6" fill="#fbb6bc"/>
<rect x="143.8" y="145.0" width="7.2" height="6.7" fill="#f989ad"/>
<rect x="101.3" y="139.6" width="9.4" height="9.4" fill="#fcc5c0"/>
<rect x="111.3" y="155.9" width="8.5" height="7.6" fill="#fcc5c0"/>
</g></g>
<rect x="98.6" y="91.6" width="3.9" height="3.9" fill="#fbb6bc"/>
<rect x="64.7" y="104.0" width="8.0" height="4.0" fill="#f768a1"/>
<rect x="196.7" y="45.0" width="2.0" height="2.0" fill="#f768a1"/>
<rect x="103.0" y="83.3" width="2.9" height="4.4" fill="#f768a1"/>
<rect x="105.4" y="61.4" width="2.4" height="1.9" fill="#f768a1"/>
<rect x="126.8" y="127.2" width="4.5" height="3.6" fill="#f768a1"/>
<rect x="103.3" y="141.6" width="5.4" height="5.4" fill="#f768a1"/>
<rect x="113.3" y="157.9" width="4.5" height="3.6" fill="#f768a1"/>
<rect x="239.6" y="83.3" width="2.0" height="2.0" fill="#ed539d"/>
<rect x="123.0" y="73.6" width="3.9" height="3.4" fill="#ed539d"/>
<rect x="158.6" y="90.8" width="3.7" height="4.3" fill="#ed539d"/>
<rect x="56.7" y="27.5" width="2.0" height="4.0" fill="#e23e99"/>
<rect x="79.0" y="42.6" width="2.0" height="4.0" fill="#e23e99"/>
<rect x="187.1" y="61.4" width="2.0" height="2.0" fill="#e23e99"/>
<rect x="212.6" y="122.3" width="2.0" height="2.0" fill="#e23e99"/>
<rect x="63.1" y="205.2" width="2.0" height="4.0" fill="#e23e99"/>
<rect x="83.8" y="213.2" width="4.0" height="4.0" fill="#e23e99"/>
<rect x="145.0" y="204.4" width="2.0" height="2.0" fill="#e23e99"/>
<rect x="134.6" y="186.9" width="2.0" height="2.0" fill="#e23e99"/>
<rect x="168.0" y="183.7" width="2.0" height="2.0" fill="#e23e99"/>
<rect x="153.2" y="35.5" width="2.1" height="3.2" fill="#e23e99"/>
<rect x="152.7" y="47.2" width="5.3" height="4.3" fill="#e23e99"/>
<rect x="168.1" y="67.4" width="2.1" height="2.1" fill="#e23e99"/>
<rect x="148.4" y="78.1" width="2.1" height="1.6" fill="#e23e99"/>
<rect x="157.0" y="73.8" width="3.7" height="4.3" fill="#e23e99"/>
<rect x="113.3" y="121.7" width="9.9" height="16.3" fill="#e23e99"/>
<rect x="115.2" y="121.1" width="1.99" height="1.99" fill="#f564a0"/>
<rect x="119.1" y="121.1" width="1.99" height="1.99" fill="#c61b8b"/>
<rect x="113.2" y="123.1" width="1.99" height="1.99" fill="#d12791"/>
<rect x="115.2" y="123.1" width="1.99" height="1.99" fill="#f878a7"/>
<rect x="121.1" y="123.1" width="1.99" height="1.99" fill="#ee579e"/>
<rect x="115.2" y="125.1" width="1.99" height="1.99" fill="#c61b8b"/>
<rect x="113.2" y="127.1" width="1.99" height="1.99" fill="#c31889"/>
<rect x="115.2" y="127.1" width="1.99" height="1.99" fill="#bf1487"/>
<rect x="117.2" y="127.1" width="1.99" height="1.99" fill="#f76ba2"/>
<rect x="121.1" y="127.1" width="1.99" height="1.99" fill="#f87ba8"/>
<rect x="115.2" y="129.1" width="1.99" height="1.99" fill="#f76fa4"/>
<rect x="117.2" y="129.1" width="1.99" height="1.99" fill="#c71c8b"/>
<rect x="119.1" y="129.1" width="1.99" height="1.99" fill="#cd228e"/>
<rect x="113.2" y="131.1" width="1.99" height="1.99" fill="#f874a6"/>
<rect x="115.2" y="131.1" width="1.99" height="1.99" fill="#f771a4"/>
<rect x="119.1" y="131.1" width="1.99" height="1.99" fill="#f881aa"/>
<rect x="121.1" y="131.1" width="1.99" height="1.99" fill="#f76da3"/>
<rect x="113.2" y="133.1" width="1.99" height="1.99" fill="#f76ea3"/>
<rect x="115.2" y="133.1" width="1.99" height="1.99" fill="#f768a1"/>
<rect x="117.2" y="133.1" width="1.99" height="1.99" fill="#ed549d"/>
<rect x="119.1" y="133.1" width="1.99" height="1.99" fill="#f76ea3"/>
<rect x="121.1" y="133.1" width="1.99" height="1.99" fill="#ca1f8d"/>
<rect x="113.2" y="135.1" width="1.99" height="1.99" fill="#f877a7"/>
<rect x="117.2" y="135.1" width="1.99" height="1.99" fill="#f76fa3"/>
<rect x="119.1" y="135.1" width="1.99" height="1.99" fill="#c31889"/>
<rect x="113.2" y="137.1" width="1.99" height="1.99" fill="#f665a1"/>
<rect x="115.2" y="137.1" width="1.99" height="1.99" fill="#cc218e"/>
<rect x="117.2" y="137.1" width="1.99" height="1.99" fill="#bc1085"/>
<rect x="119.1" y="137.1" width="1.99" height="1.99" fill="#f15c9f"/>
<rect x="121.1" y="137.1" width="1.99" height="1.99" fill="#f564a0"/>
<rect x="126.8" y="134.4" width="16.3" height="11.8" fill="#e23e99"/>
<rect x="127.1" y="135.1" width="1.99" height="1.99" fill="#be1387"/>
<rect x="131.1" y="135.1" width="1.99" height="1.99" fill="#f881aa"/>
<rect x="133.1" y="135.1" width="1.99" height="1.99" fill="#f87ba8"/>
<rect x="135.0" y="135.1" width="1.99" height="1.99" fill="#d12791"/>
<rect x="137.0" y="135.1" width="1.99" height="1.99" fill="#f872a4"/>
<rect x="139.0" y="135.1" width="1.99" height="1.99" fill="#d22891"/>
<rect x="141.0" y="135.1" width="1.99" height="1.99" fill="#f87da9"/>
<rect x="133.1" y="137.1" width="1.99" height="1.99" fill="#c4198a"/>
<rect x="135.0" y="137.1" width="1.99" height="1.99" fill="#c31889"/>
<rect x="137.0" y="137.1" width="1.99" height="1.99" fill="#bf1487"/>
<rect x="129.1" y="139.1" width="1.99" height="1.99" fill="#ef589e"/>
<rect x="131.1" y="139.1" width="1.99" height="1.99" fill="#f05a9e"/>
<rect x="133.1" y="139.1" width="1.99" height="1.99" fill="#f87ba8"/>
<rect x="135.0" y="139.1" width="1.99" height="1.99" fill="#f876a6"/>
<rect x="139.0" y="139.1" width="1.99" height="1.99" fill="#f87aa8"/>
<rect x="141.0" y="139.1" width="1.99" height="1.99" fill="#ce248f"/>
<rect x="127.1" y="141.1" width="1.99" height="1.99" fill="#cc228e"/>
<rect x="129.1" y="141.1" width="1.99" height="1.99" fill="#f882aa"/>
<rect x="131.1" y="141.1" width="1.99" height="1.99" fill="#f25d9f"/>
<rect x="133.1" y="141.1" width="1.99" height="1.99" fill="#f0599e"/>
<rect x="135.0" y="141.1" width="1.99" height="1.99" fill="#ca208d"/>
<rect x="139.0" y="141.1" width="1.99" height="1.99" fill="#f25d9f"/>
<rect x="141.0" y="141.1" width="1.99" height="1.99" fill="#d22891"/>
<rect x="129.1" y="143.1" width="1.99" height="1.99" fill="#f25d9f"/>
<rect x="133.1" y="143.1" width="1.99" height="1.99" fill="#f879a7"/>
<rect x="135.0" y="143.1" width="1.99" height="1.99" fill="#f05a9e"/>
<rect x="137.0" y="143.1" width="1.99" height="1.99" fill="#bf1487"/>
<rect x="139.0" y="143.1" width="1.99" height="1.99" fill="#c71d8c"/>
<rect x="141.0" y="143.1" width="1.99" height="1.99" fill="#f25e9f"/>
<rect x="127.1" y="145.1" width="1.99" height="1.99" fill="#c71c8b"/>
<rect x="129.1" y="145.1" width="1.99" height="1.99" fill="#c71c8b"/>
<rect x="131.1" y="145.1" width="1.99" height="1.99" fill="#f873a5"/>
<rect x="133.1" y="145.1" width="1.99" height="1.99" fill="#f769a1"/>
<rect x="135.0" y="145.1" width="1.99" height="1.99" fill="#f76aa2"/>
<rect x="137.0" y="145.1" width="1.99" height="1.99" fill="#c01487"/>
<rect x="139.0" y="145.1" width="1.99" height="1.99" fill="#f877a7"/>
<rect x="97.0" y="135.3" width="5.4" height="3.6" fill="#e23e99"/>
<rect x="94.7" y="62.9" width="6.3" height="4.9" fill="#d42a92"/>
<rect x="170.3" y="47.2" width="2.7" height="3.7" fill="#c11588"/>
<rect x="106.0" y="135.3" width="7.2" height="6.3" fill="#c11588"/>
<rect x="105.2" y="135.1" width="1.99" height="1.99" fill="#ec529d"/>
<rect x="111.2" y="135.1" width="1.99" height="1.99" fill="#e6459a"/>
<rect x="107.2" y="137.1" width="1.99" height="1.99" fill="#e03a98"/>
<rect x="107.2" y="139.1" width="1.99" height="1.99" fill="#d52b93"/>
<rect x="109.2" y="139.1" width="1.99" height="1.99" fill="#de3697"/>
<rect x="105.2" y="141.1" width="1.99" height="1.99" fill="#ea4e9c"/>
<rect x="111.2" y="141.1" width="1.99" height="1.99" fill="#ea4d9c"/>
<rect x="99.6" y="74.6" width="4.9" height="3.4" fill="#ae017e"/>
<rect x="53.6" y="42.6" width="2.0" height="2.0" fill="#99017b"/>
<rect x="114.0" y="31.5" width="2.0" height="2.0" fill="#99017b"/>
<rect x="129.1" y="43.4" width="2.0" height="2.0" fill="#99017b"/>
<rect x="135.4" y="165.4" width="6.0" height="4.0" fill="#99017b"/>
<rect x="88.5" y="151.0" width="2.0" height="4.0" fill="#99017b"/>
<rect x="88.5" y="163.8" width="2.0" height="4.0" fill="#99017b"/>
<rect x="95.7" y="63.4" width="4.9" height="2.9" fill="#99017b"/>
<rect x="95.2" y="69.2" width="2.9" height="5.4" fill="#99017b"/>
<rect x="123.0" y="69.7" width="7.3" height="3.9" fill="#99017b"/>
<rect x="94.1" y="37.1" width="4.0" height="2.0" fill="#840178"/>
<rect x="98.9" y="40.3" width="2.0" height="4.0" fill="#840178"/>
<rect x="141.8" y="101.6" width="4.0" height="2.0" fill="#840178"/>
<rect x="168.8" y="29.5" width="2.0" height="2.0" fill="#840178"/>
<rect x="205.4" y="61.4" width="2.0" height="2.0" fill="#840178"/>
<rect x="225.3" y="97.2" width="2.0" height="4.0" fill="#840178"/>
<rect x="214.9" y="120.0" width="2.0" height="2.0" fill="#840178"/>
<rect x="91.7" y="206.8" width="2.0" height="2.0" fill="#840178"/>
<rect x="138.6" y="198.1" width="2.0" height="2.0" fill="#840178"/>
<rect x="175.2" y="155.0" width="4.0" height="4.0" fill="#840178"/>
<rect x="165.6" y="192.5" width="2.0" height="4.0" fill="#840178"/>
<rect x="154.5" y="134.3" width="2.0" height="2.0" fill="#840178"/>
<rect x="147.4" y="144.7" width="2.0" height="2.0" fill="#840178"/>
<rect x="105.9" y="71.2" width="2.9" height="3.9" fill="#840178"/>
<rect x="145.8" y="147.0" width="3.2" height="2.7" fill="#840178"/>
<rect x="115.1" y="123.1" width="7.2" height="13.1" fill="#780176"/>
<rect x="117.1" y="123.1" width="1.99" height="1.99" fill="#92017a"/>
<rect x="119.1" y="123.1" width="1.99" height="1.99" fill="#600070"/>
<rect x="117.1" y="125.1" width="1.99" height="1.99" fill="#b40881"/>
<rect x="119.1" y="125.1" width="1.99" height="1.99" fill="#630171"/>
<rect x="121.1" y="125.1" width="1.99" height="1.99" fill="#5e0070"/>
<rect x="115.2" y="127.1" width="1.99" height="1.99" fill="#9e017c"/>
<rect x="117.1" y="127.1" width="1.99" height="1.99" fill="#58006e"/>
<rect x="121.1" y="127.1" width="1.99" height="1.99" fill="#9f017c"/>
<rect x="115.2" y="129.1" width="1.99" height="1.99" fill="#b1047f"/>
<rect x="115.2" y="131.1" width="1.99" height="1.99" fill="#9a017b"/>
<rect x="121.1" y="131.1" width="1.99" height="1.99" fill="#4f006c"/>
<rect x="117.1" y="133.1" width="1.99" height="1.99" fill="#b70b83"/>
<rect x="119.1" y="133.1" width="1.99" height="1.99" fill="#9a017b"/>
<rect x="121.1" y="133.1" width="1.99" height="1.99" fill="#51006c"/>
<rect x="115.2" y="135.1" width="1.99" height="1.99" fill="#90017a"/>
<rect x="117.1" y="135.1" width="1.99" height="1.99" fill="#9b017b"/>
<rect x="119.1" y="135.1" width="1.99" height="1.99" fill="#94017b"/>
<rect x="121.1" y="135.1" width="1.99" height="1.99" fill="#58006e"/>
<rect x="204.6" y="27.5" width="2.0" height="4.0" fill="#700174"/>
<rect x="98.1" y="75.5" width="7.8" height="7.8" fill="#700174"/>
<rect x="97.3" y="75.3" width="1.99" height="1.99" fill="#ae017e"/>
<rect x="99.3" y="75.3" width="1.99" height="1.99" fill="#a9017d"/>
<rect x="103.2" y="75.3" width="1.99" height="1.99" fill="#860179"/>
<rect x="97.3" y="77.3" width="1.99" height="1.99" fill="#4a006a"/>
<rect x="99.3" y="77.3" width="1.99" height="1.99" fill="#8c0179"/>
<rect x="103.2" y="77.3" width="1.99" height="1.99" fill="#49006a"/>
<rect x="97.3" y="79.3" width="1.99" height="1.99" fill="#58006e"/>
<rect x="97.3" y="81.3" width="1.99" height="1.99" fill="#8e017a"/>
<rect x="99.3" y="81.3" width="1.99" height="1.99" fill="#57006e"/>
<rect x="101.2" y="81.3" width="1.99" height="1.99" fill="#57006e"/>
<rect x="153.2" y="45.1" width="2.1" height="2.1" fill="#700174"/>
<rect x="162.8" y="65.3" width="2.7" height="2.1" fill="#700174"/>
<rect x="147.9" y="75.4" width="2.7" height="2.7" fill="#700174"/>
<rect x="155.9" y="77.0" width="2.7" height="6.4" fill="#700174"/>
<rect x="130.5" y="138.9" width="6.3" height="6.3" fill="#700174"/>
<rect x="131.1" y="139.1" width="1.99" height="1.99" fill="#52006c"/>
<rect x="133.1" y="139.1" width="1.99" height="1.99" fill="#870179"/>
<rect x="135.0" y="139.1" width="1.99" height="1.99" fill="#ad017e"/>
<rect x="131.1" y="141.1" width="1.99" height="1.99" fill="#95017b"/>
<rect x="133.1" y="141.1" width="1.99" height="1.99" fill="#59006e"/>
<rect x="131.1" y="143.1" width="1.99" height="1.99" fill="#4f006c"/>
<rect x="133.1" y="143.1" width="1.99" height="1.99" fill="#58006e"/>
<rect x="117.6" y="69.2" width="2.9" height="3.9" fill="#680172"/>
<rect x="160.1" y="82.3" width="3.2" height="7.4" fill="#680172"/>
</g>
<use href="#geo"/>
<rect x="35.05" y="17.3" width="243.75" height="227.7" fill="none" stroke="#000" stroke-width="1.5"/>
<text x="78.90" y="9.00" font-size="12.3" textLength="28.80" lengthAdjust="spacingAndGlyphs" stroke="#000" stroke-width="0.3" >30°E</text>
<text x="158.40" y="9.00" font-size="12.3" textLength="28.80" lengthAdjust="spacingAndGlyphs" stroke="#000" stroke-width="0.3" >40°E</text>
<text x="237.90" y="9.00" font-size="12.3" textLength="28.80" lengthAdjust="spacingAndGlyphs" stroke="#000" stroke-width="0.3" >50°E</text>
<text x="-0.60" y="63.80" font-size="12.3" textLength="29.00" lengthAdjust="spacingAndGlyphs" stroke="#000" stroke-width="0.3" >10°N</text>
<text x="15.10" y="143.80" font-size="12.3" textLength="13.70" lengthAdjust="spacingAndGlyphs" stroke="#000" stroke-width="0.3" >0°</text>
<text x="0.30" y="223.80" font-size="12.3" textLength="28.60" lengthAdjust="spacingAndGlyphs" stroke="#000" stroke-width="0.3" >10°S</text>
<text x="4.36" y="37.30" font-size="13.8" textLength="19.19" lengthAdjust="spacingAndGlyphs" stroke="#000" stroke-width="0.3" >(c)</text>
</g>
<g transform="translate(292.5,290.5)">
<g clip-path="url(#cd)">
<rect x="45.6" y="27.5" width="222.60" height="207.30" fill="#fff6f2"/>
<g clip-path="url(#cl)"><g filter="url(#bl)">
<rect x="37.6" y="19.5" width="32.1" height="8.3" fill="#feece8"/>
<rect x="69.5" y="19.5" width="24.2" height="8.3" fill="#fef1ed"/>
<rect x="93.3" y="19.5" width="8.2" height="8.3" fill="#feece8"/>
<rect x="101.2" y="19.5" width="8.2" height="8.3" fill="#fef1ed"/>
<rect x="109.2" y="19.5" width="8.2" height="8.3" fill="#feece8"/>
<rect x="117.2" y="19.5" width="24.2" height="8.3" fill="#fef1ed"/>
<rect x="141.0" y="19.5" width="16.2" height="8.3" fill="#feece8"/>
<rect x="156.9" y="19.5" width="8.2" height="8.3" fill="#fde5e1"/>
<rect x="164.8" y="19.5" width="8.2" height="8.3" fill="#feece8"/>
<rect x="172.8" y="19.5" width="103.7" height="8.3" fill="#fef1ed"/>
<rect x="37.6" y="27.5" width="32.1" height="8.3" fill="#feece8"/>
<rect x="69.5" y="27.5" width="24.2" height="8.3" fill="#fef1ed"/>
<rect x="93.3" y="27.5" width="8.2" height="8.3" fill="#feece8"/>
<rect x="101.2" y="27.5" width="8.2" height="8.3" fill="#fef1ed"/>
<rect x="109.2" y="27.5" width="8.2" height="8.3" fill="#feece8"/>
<rect x="117.2" y="27.5" width="24.2" height="8.3" fill="#fef1ed"/>
<rect x="141.0" y="27.5" width="16.2" height="8.3" fill="#feece8"/>
<rect x="156.9" y="27.5" width="8.2" height="8.3" fill="#fde5e1"/>
<rect x="164.8" y="27.5" width="8.2" height="8.3" fill="#feece8"/>
<rect x="172.8" y="27.5" width="103.7" height="8.3" fill="#fef1ed"/>
<rect x="37.6" y="35.5" width="48.0" height="8.3" fill="#feece8"/>
<rect x="85.3" y="35.5" width="8.2" height="8.3" fill="#fef1ed"/>
<rect x="93.3" y="35.5" width="16.2" height="8.3" fill="#feece8"/>
<rect x="109.2" y="35.5" width="32.1" height="8.3" fill="#fef1ed"/>
<rect x="141.0" y="35.5" width="8.2" height="8.3" fill="#feece8"/>
<rect x="149.0" y="35.5" width="16.2" height="8.3" fill="#fde5e1"/>
<rect x="164.8" y="35.5" width="16.2" height="8.3" fill="#feece8"/>
<rect x="180.8" y="35.5" width="95.7" height="8.3" fill="#fef1ed"/>
<rect x="37.6" y="43.4" width="48.0" height="8.3" fill="#feece8"/>
<rect x="85.3" y="43.4" width="8.2" height="8.3" fill="#fef1ed"/>
<rect x="93.3" y="43.4" width="16.2" height="8.3" fill="#feece8"/>
<rect x="109.2" y="43.4" width="16.2" height="8.3" fill="#fef1ed"/>
<rect x="125.1" y="43.4" width="24.2" height="8.3" fill="#feece8"/>
<rect x="149.0" y="43.4" width="8.2" height="8.3" fill="#fddbd7"/>
<rect x="156.9" y="43.4" width="8.2" height="8.3" fill="#fde5e1"/>
<rect x="164.8" y="43.4" width="16.2" height="8.3" fill="#feece8"/>
<rect x="180.8" y="43.4" width="95.7" height="8.3" fill="#fef1ed"/>
<rect x="37.6" y="51.4" width="48.0" height="8.3" fill="#fef1ed"/>
<rect x="85.3" y="51.4" width="63.9" height="8.3" fill="#feece8"/>
<rect x="149.0" y="51.4" width="16.2" height="8.3" fill="#fde5e1"/>
<rect x="164.8" y="51.4" width="24.2" height="8.3" fill="#feece8"/>
<rect x="188.7" y="51.4" width="87.8" height="8.3" fill="#fef1ed"/>
<rect x="37.6" y="59.4" width="48.0" height="8.3" fill="#fef1ed"/>
<rect x="85.3" y="59.4" width="8.2" height="8.3" fill="#fde5e1"/>
<rect x="93.3" y="59.4" width="8.2" height="8.3" fill="#fccbc7"/>
<rect x="101.2" y="59.4" width="8.2" height="8.3" fill="#fde5e1"/>
<rect x="109.2" y="59.4" width="32.1" height="8.3" fill="#feece8"/>
<rect x="141.0" y="59.4" width="16.2" height="8.3" fill="#fde5e1"/>
<rect x="156.9" y="59.4" width="8.2" height="8.3" fill="#fddbd7"/>
<rect x="164.8" y="59.4" width="8.2" height="8.3" fill="#fde5e1"/>
<rect x="172.8" y="59.4" width="8.2" height="8.3" fill="#feece8"/>
<rect x="180.8" y="59.4" width="8.2" height="8.3" fill="#fde5e1"/>
<rect x="188.7" y="59.4" width="8.2" height="8.3" fill="#feece8"/>
<rect x="196.7" y="59.4" width="79.8" height="8.3" fill="#fef1ed"/>
<rect x="37.6" y="67.4" width="48.0" height="8.3" fill="#fef1ed"/>
<rect x="85.3" y="67.4" width="8.2" height="8.3" fill="#fccbc7"/>
<rect x="93.3" y="67.4" width="8.2" height="8.3" fill="#f98bae"/>
<rect x="101.2" y="67.4" width="8.2" height="8.3" fill="#fccbc7"/>
<rect x="109.2" y="67.4" width="8.2" height="8.3" fill="#feece8"/>
<rect x="117.2" y="67.4" width="8.2" height="8.3" fill="#fde5e1"/>
<rect x="125.1" y="67.4" width="16.2" height="8.3" fill="#feece8"/>
<rect x="141.0" y="67.4" width="8.2" height="8.3" fill="#fde5e1"/>
<rect x="149.0" y="67.4" width="16.2" height="8.3" fill="#fddbd7"/>
<rect x="164.8" y="67.4" width="8.2" height="8.3" fill="#fde5e1"/>
<rect x="172.8" y="67.4" width="16.2" height="8.3" fill="#feece8"/>
<rect x="188.7" y="67.4" width="87.8" height="8.3" fill="#fef1ed"/>
<rect x="37.6" y="75.3" width="48.0" height="8.3" fill="#fef1ed"/>
<rect x="85.3" y="75.3" width="8.2" height="8.3" fill="#fccbc7"/>
<rect x="93.3" y="75.3" width="8.2" height="8.3" fill="#f98bae"/>
<rect x="101.2" y="75.3" width="8.2" height="8.3" fill="#fccbc7"/>
<rect x="109.2" y="75.3" width="32.1" height="8.3" fill="#feece8"/>
<rect x="141.0" y="75.3" width="8.2" height="8.3" fill="#fde5e1"/>
<rect x="149.0" y="75.3" width="8.2" height="8.3" fill="#fddbd7"/>
<rect x="156.9" y="75.3" width="8.2" height="8.3" fill="#fbb3bb"/>
<rect x="164.8" y="75.3" width="8.2" height="8.3" fill="#fddbd7"/>
<rect x="172.8" y="75.3" width="8.2" height="8.3" fill="#feece8"/>
<rect x="180.8" y="75.3" width="95.7" height="8.3" fill="#fef1ed"/>
<rect x="37.6" y="83.3" width="48.0" height="8.3" fill="#fef1ed"/>
<rect x="85.3" y="83.3" width="8.2" height="8.3" fill="#fde5e1"/>
<rect x="93.3" y="83.3" width="8.2" height="8.3" fill="#fddbd7"/>
<rect x="101.2" y="83.3" width="8.2" height="8.3" fill="#fde5e1"/>
<rect x="109.2" y="83.3" width="40.0" height="8.3" fill="#feece8"/>
<rect x="149.0" y="83.3" width="8.2" height="8.3" fill="#fde5e1"/>
<rect x="156.9" y="83.3" width="8.2" height="8.3" fill="#fbb3bb"/>
<rect x="164.8" y="83.3" width="8.2" height="8.3" fill="#fddbd7"/>
<rect x="172.8" y="83.3" width="8.2" height="8.3" fill="#feece8"/>
<rect x="180.8" y="83.3" width="95.7" height="8.3" fill="#fef1ed"/>
<rect x="37.6" y="91.3" width="48.0" height="8.3" fill="#fef1ed"/>
<rect x="85.3" y="91.3" width="8.2" height="8.3" fill="#feece8"/>
<rect x="93.3" y="91.3" width="8.2" height="8.3" fill="#fde5e1"/>
<rect x="101.2" y="91.3" width="48.0" height="8.3" fill="#feece8"/>
<rect x="149.0" y="91.3" width="8.2" height="8.3" fill="#fde5e1"/>
<rect x="156.9" y="91.3" width="8.2" height="8.3" fill="#fddbd7"/>
<rect x="164.8" y="91.3" width="8.2" height="8.3" fill="#fde5e1"/>
<rect x="172.8" y="91.3" width="8.2" height="8.3" fill="#feece8"/>
<rect x="180.8" y="91.3" width="95.7" height="8.3" fill="#fef1ed"/>
<rect x="37.6" y="99.3" width="135.5" height="8.3" fill="#feece8"/>
<rect x="172.8" y="99.3" width="103.7" height="8.3" fill="#fef1ed"/>
<rect x="37.6" y="107.2" width="24.2" height="8.3" fill="#feece8"/>
<rect x="61.5" y="107.2" width="8.2" height="8.3" fill="#fde5e1"/>
<rect x="69.5" y="107.2" width="8.2" height="8.3" fill="#fddbd7"/>
<rect x="77.4" y="107.2" width="8.2" height="8.3" fill="#fde5e1"/>
<rect x="85.3" y="107.2" width="79.8" height="8.3" fill="#feece8"/>
<rect x="164.8" y="107.2" width="111.6" height="8.3" fill="#fef1ed"/>
<rect x="37.6" y="115.2" width="24.2" height="8.3" fill="#feece8"/>
<rect x="61.5" y="115.2" width="16.2" height="8.3" fill="#fde5e1"/>
<rect x="77.4" y="115.2" width="32.1" height="8.3" fill="#feece8"/>
<rect x="109.2" y="115.2" width="16.2" height="8.3" fill="#fde5e1"/>
<rect x="125.1" y="115.2" width="40.0" height="8.3" fill="#feece8"/>
<rect x="164.8" y="115.2" width="111.6" height="8.3" fill="#fef1ed"/>
<rect x="37.6" y="123.2" width="63.9" height="8.3" fill="#feece8"/>
<rect x="101.2" y="123.2" width="8.2" height="8.3" fill="#fde5e1"/>
<rect x="109.2" y="123.2" width="8.2" height="8.3" fill="#fddbd7"/>
<rect x="117.2" y="123.2" width="8.2" height="8.3" fill="#fccbc7"/>
<rect x="125.1" y="123.2" width="8.2" height="8.3" fill="#fddbd7"/>
<rect x="133.1" y="123.2" width="8.2" height="8.3" fill="#fde5e1"/>
<rect x="141.0" y="123.2" width="24.2" height="8.3" fill="#feece8"/>
<rect x="164.8" y="123.2" width="111.6" height="8.3" fill="#fef1ed"/>
<rect x="37.6" y="131.2" width="16.2" height="8.3" fill="#fde5e1"/>
<rect x="53.6" y="131.2" width="40.0" height="8.3" fill="#feece8"/>
<rect x="93.3" y="131.2" width="8.2" height="8.3" fill="#fde5e1"/>
<rect x="101.2" y="131.2" width="8.2" height="8.3" fill="#fddbd7"/>
<rect x="109.2" y="131.2" width="24.2" height="8.3" fill="#fbb3bb"/>
<rect x="133.1" y="131.2" width="8.2" height="8.3" fill="#fccbc7"/>
<rect x="141.0" y="131.2" width="8.2" height="8.3" fill="#fddbd7"/>
<rect x="149.0" y="131.2" width="16.2" height="8.3" fill="#fde5e1"/>
<rect x="164.8" y="131.2" width="16.2" height="8.3" fill="#feece8"/>
<rect x="180.8" y="131.2" width="95.7" height="8.3" fill="#fef1ed"/>
<rect x="37.6" y="139.1" width="55.9" height="8.3" fill="#feece8"/>
<rect x="93.3" y="139.1" width="16.2" height="8.3" fill="#fde5e1"/>
<rect x="109.2" y="139.1" width="8.2" height="8.3" fill="#fddbd7"/>
<rect x="117.2" y="139.1" width="16.2" height="8.3" fill="#fde5e1"/>
<rect x="133.1" y="139.1" width="8.2" height="8.3" fill="#fccbc7"/>
<rect x="141.0" y="139.1" width="8.2" height="8.3" fill="#fddbd7"/>
<rect x="149.0" y="139.1" width="16.2" height="8.3" fill="#fde5e1"/>
<rect x="164.8" y="139.1" width="16.2" height="8.3" fill="#feece8"/>
<rect x="180.8" y="139.1" width="95.7" height="8.3" fill="#fef1ed"/>
<rect x="37.6" y="147.1" width="48.0" height="8.3" fill="#feece8"/>
<rect x="85.3" y="147.1" width="24.2" height="8.3" fill="#fde5e1"/>
<rect x="109.2" y="147.1" width="8.2" height="8.3" fill="#fddbd7"/>
<rect x="117.2" y="147.1" width="40.0" height="8.3" fill="#fde5e1"/>
<rect x="156.9" y="147.1" width="24.2" height="8.3" fill="#feece8"/>
<rect x="180.8" y="147.1" width="95.7" height="8.3" fill="#fef1ed"/>
<rect x="37.6" y="155.1" width="16.2" height="8.3" fill="#feece8"/>
<rect x="53.6" y="155.1" width="8.2" height="8.3" fill="#fde5e1"/>
<rect x="61.5" y="155.1" width="24.2" height="8.3" fill="#feece8"/>
<rect x="85.3" y="155.1" width="16.2" height="8.3" fill="#fde5e1"/>
<rect x="101.2" y="155.1" width="79.8" height="8.3" fill="#feece8"/>
<rect x="180.8" y="155.1" width="95.7" height="8.3" fill="#fef1ed"/>
<rect x="37.6" y="163.0" width="16.2" height="8.3" fill="#feece8"/>
<rect x="53.6" y="163.0" width="8.2" height="8.3" fill="#fde5e1"/>
<rect x="61.5" y="163.0" width="119.5" height="8.3" fill="#feece8"/>
<rect x="180.8" y="163.0" width="95.7" height="8.3" fill="#fef1ed"/>
<rect x="37.6" y="171.0" width="143.4" height="8.3" fill="#feece8"/>
<rect x="180.8" y="171.0" width="95.7" height="8.3" fill="#fef1ed"/>
<rect x="37.6" y="179.0" width="16.2" height="8.3" fill="#fde5e1"/>
<rect x="53.6" y="179.0" width="127.5" height="8.3" fill="#feece8"/>
<rect x="180.8" y="179.0" width="95.7" height="8.3" fill="#fef1ed"/>
<rect x="37.6" y="187.0" width="143.4" height="8.3" fill="#feece8"/>
<rect x="180.8" y="187.0" width="95.7" height="8.3" fill="#fef1ed"/>
<rect x="37.6" y="194.9" width="71.8" height="8.3" fill="#feece8"/>
<rect x="109.2" y="194.9" width="8.2" height="8.3" fill="#fde5e1"/>
<rect x="117.2" y="194.9" width="16.2" height="8.3" fill="#feece8"/>
<rect x="133.1" y="194.9" width="8.2" height="8.3" fill="#fde5e1"/>
<rect x="141.0" y="194.9" width="40.0" height="8.3" fill="#feece8"/>
<rect x="180.8" y="194.9" width="95.7" height="8.3" fill="#fef1ed"/>
<rect x="37.6" y="202.9" width="24.2" height="8.3" fill="#feece8"/>
<rect x="61.5" y="202.9" width="16.2" height="8.3" fill="#fde5e1"/>
<rect x="77.4" y="202.9" width="16.2" height="8.3" fill="#feece8"/>
<rect x="93.3" y="202.9" width="8.2" height="8.3" fill="#fde5e1"/>
<rect x="101.2" y="202.9" width="79.8" height="8.3" fill="#feece8"/>
<rect x="180.8" y="202.9" width="95.7" height="8.3" fill="#fef1ed"/>
<rect x="37.6" y="210.9" width="143.4" height="8.3" fill="#feece8"/>
<rect x="180.8" y="210.9" width="95.7" height="8.3" fill="#fef1ed"/>
<rect x="37.6" y="218.9" width="143.4" height="8.3" fill="#feece8"/>
<rect x="180.8" y="218.9" width="95.7" height="8.3" fill="#fef1ed"/>
<rect x="37.6" y="226.8" width="143.4" height="8.3" fill="#feece8"/>
<rect x="180.8" y="226.8" width="95.7" height="8.3" fill="#fef1ed"/>
<rect x="37.6" y="234.8" width="143.4" height="8.3" fill="#feece8"/>
<rect x="180.8" y="234.8" width="95.7" height="8.3" fill="#fef1ed"/>
<rect x="102.9" y="138.9" width="41.6" height="23.5" fill="#fde1de"/>
<rect x="141.5" y="35.5" width="40.0" height="26.6" fill="#fddbd7"/>
<rect x="63.1" y="107.2" width="9.5" height="8.0" fill="#fcd0cc"/>
<rect x="91.3" y="62.4" width="18.5" height="27.3" fill="#fccbc7"/>
<rect x="123.5" y="70.2" width="6.8" height="3.9" fill="#fcc5c0"/>
<rect x="141.5" y="62.1" width="40.0" height="33.0" fill="#fcc5c0"/>
<rect x="102.9" y="119.9" width="41.6" height="19.0" fill="#fcc5c0"/>
<rect x="64.3" y="107.6" width="8.0" height="8.0" fill="#fddbd7"/>
<rect x="96.1" y="34.3" width="6.0" height="10.0" fill="#f989ad"/>
<rect x="94.5" y="35.9" width="10.0" height="6.0" fill="#f994b1"/>
<rect x="77.0" y="43.4" width="6.0" height="8.0" fill="#f989ad"/>
<rect x="51.6" y="39.0" width="6.0" height="6.0" fill="#fcc5c0"/>
<rect x="126.3" y="41.4" width="6.0" height="6.0" fill="#fcd0cc"/>
<rect x="185.1" y="59.4" width="6.0" height="6.0" fill="#f989ad"/>
<rect x="202.6" y="25.5" width="6.0" height="8.0" fill="#fbb6bc"/>
<rect x="94.5" y="135.1" width="6.0" height="6.0" fill="#f989ad"/>
<rect x="86.5" y="149.8" width="6.0" height="6.0" fill="#f989ad"/>
<rect x="86.5" y="161.8" width="6.0" height="6.0" fill="#fbb6bc"/>
<rect x="61.1" y="202.4" width="8.0" height="8.0" fill="#f994b1"/>
<rect x="89.7" y="204.8" width="6.0" height="6.0" fill="#f989ad"/>
<rect x="118.3" y="164.2" width="6.0" height="6.0" fill="#fbb6bc"/>
<rect x="46.0" y="129.9" width="6.0" height="6.0" fill="#fcc5c0"/>
<rect x="86.4" y="69.2" width="20.6" height="15.7" fill="#fbb6bc"/>
<rect x="93.2" y="61.4" width="8.9" height="9.8" fill="#fcc5c0"/>
<rect x="92.3" y="67.2" width="12.8" height="15.7" fill="#f994b1"/>
<rect x="93.2" y="68.2" width="10.8" height="13.7" fill="#f877a7"/>
<rect x="103.5" y="69.2" width="6.4" height="7.9" fill="#fcd0cc"/>
<rect x="116.6" y="67.7" width="5.9" height="6.9" fill="#fa9fb5"/>
<rect x="145.9" y="45.2" width="14.6" height="13.6" fill="#fccac6"/>
<rect x="149.1" y="73.9" width="21.0" height="18.9" fill="#fcbdbe"/>
<rect x="151.2" y="34.0" width="6.1" height="7.2" fill="#f989ad"/>
<rect x="148.5" y="43.6" width="8.8" height="5.6" fill="#f87ea9"/>
<rect x="153.3" y="53.2" width="6.7" height="6.1" fill="#f989ad"/>
<rect x="168.2" y="45.7" width="6.7" height="7.7" fill="#f87ea9"/>
<rect x="160.8" y="63.8" width="6.7" height="6.1" fill="#f87ea9"/>
<rect x="166.1" y="65.9" width="6.1" height="5.6" fill="#fcbdbe"/>
<rect x="143.8" y="63.8" width="6.7" height="5.6" fill="#fcbdbe"/>
<rect x="145.9" y="73.4" width="6.7" height="7.7" fill="#f87ea9"/>
<rect x="153.3" y="71.3" width="9.3" height="8.8" fill="#f994b1"/>
<rect x="153.3" y="76.1" width="13.6" height="12.5" fill="#f882ab"/>
<rect x="158.1" y="80.3" width="7.7" height="11.4" fill="#f877a7"/>
<rect x="150.1" y="86.7" width="8.3" height="7.2" fill="#fccac6"/>
<rect x="115.4" y="121.5" width="10.3" height="12.1" fill="#f994b1"/>
<rect x="117.2" y="125.2" width="7.6" height="6.7" fill="#f87ea9"/>
<rect x="120.8" y="126.1" width="10.3" height="8.5" fill="#faa7b7"/>
<rect x="103.2" y="133.3" width="9.0" height="10.3" fill="#fbb6bc"/>
<rect x="103.6" y="139.6" width="7.6" height="8.5" fill="#fcc5c0"/>
<rect x="125.3" y="129.7" width="14.8" height="10.3" fill="#fbb6bc"/>
<rect x="125.3" y="136.0" width="16.7" height="12.1" fill="#fcbdbe"/>
<rect x="110.9" y="130.6" width="6.7" height="8.1" fill="#f989ad"/>
<rect x="116.3" y="131.0" width="9.4" height="7.2" fill="#f882ab"/>
<rect x="128.0" y="133.3" width="7.2" height="7.2" fill="#f989ad"/>
<rect x="133.5" y="131.0" width="6.3" height="6.3" fill="#f989ad"/>
<rect x="128.0" y="137.8" width="9.4" height="9.4" fill="#f989ad"/>
<rect x="144.3" y="143.2" width="7.2" height="8.1" fill="#f87ea9"/>
<rect x="95.5" y="135.1" width="5.4" height="5.8" fill="#f989ad"/>
<rect x="113.1" y="155.9" width="7.2" height="7.2" fill="#f994b1"/>
<rect x="105.4" y="150.5" width="6.7" height="8.5" fill="#fcc5c0"/>
</g></g>
<rect x="66.3" y="109.6" width="4.0" height="4.0" fill="#fbb6bc"/>
<rect x="128.3" y="43.4" width="2.0" height="2.0" fill="#f994b1"/>
<rect x="105.5" y="71.2" width="2.4" height="3.9" fill="#f994b1"/>
<rect x="147.9" y="47.2" width="10.6" height="9.6" fill="#f87ea9"/>
<rect x="150.9" y="47.4" width="1.99" height="1.99" fill="#fbadb9"/>
<rect x="154.9" y="47.4" width="1.99" height="1.99" fill="#f564a0"/>
<rect x="156.9" y="47.4" width="1.99" height="1.99" fill="#e84b9b"/>
<rect x="147.0" y="49.4" width="1.99" height="1.99" fill="#fa9fb5"/>
<rect x="149.0" y="49.4" width="1.99" height="1.99" fill="#faa8b8"/>
<rect x="150.9" y="49.4" width="1.99" height="1.99" fill="#f3609f"/>
<rect x="154.9" y="49.4" width="1.99" height="1.99" fill="#e94d9c"/>
<rect x="156.9" y="49.4" width="1.99" height="1.99" fill="#faa2b6"/>
<rect x="147.0" y="51.4" width="1.99" height="1.99" fill="#ed549d"/>
<rect x="149.0" y="51.4" width="1.99" height="1.99" fill="#f461a0"/>
<rect x="150.9" y="51.4" width="1.99" height="1.99" fill="#fbafba"/>
<rect x="152.9" y="51.4" width="1.99" height="1.99" fill="#fbb8bc"/>
<rect x="149.0" y="53.4" width="1.99" height="1.99" fill="#fa96b2"/>
<rect x="152.9" y="53.4" width="1.99" height="1.99" fill="#fa9bb4"/>
<rect x="154.9" y="53.4" width="1.99" height="1.99" fill="#fbb2ba"/>
<rect x="149.0" y="55.4" width="1.99" height="1.99" fill="#fbaab8"/>
<rect x="150.9" y="55.4" width="1.99" height="1.99" fill="#fba9b8"/>
<rect x="152.9" y="55.4" width="1.99" height="1.99" fill="#f666a1"/>
<rect x="154.9" y="55.4" width="1.99" height="1.99" fill="#faa8b7"/>
<rect x="156.9" y="55.4" width="1.99" height="1.99" fill="#fbb4bb"/>
<rect x="152.1" y="88.7" width="4.3" height="3.2" fill="#f87ea9"/>
<rect x="53.6" y="41.0" width="2.0" height="2.0" fill="#f768a1"/>
<rect x="48.0" y="131.9" width="2.0" height="2.0" fill="#f768a1"/>
<rect x="95.2" y="63.4" width="4.9" height="5.8" fill="#f768a1"/>
<rect x="105.6" y="141.6" width="3.6" height="4.5" fill="#f768a1"/>
<rect x="107.4" y="152.5" width="2.7" height="4.5" fill="#f768a1"/>
<rect x="151.1" y="75.9" width="17.0" height="14.9" fill="#ed539d"/>
<rect x="150.9" y="75.3" width="1.99" height="1.99" fill="#f994b1"/>
<rect x="152.9" y="75.3" width="1.99" height="1.99" fill="#f76aa2"/>
<rect x="156.9" y="75.3" width="1.99" height="1.99" fill="#f883ab"/>
<rect x="160.9" y="75.3" width="1.99" height="1.99" fill="#f87aa8"/>
<rect x="152.9" y="77.3" width="1.99" height="1.99" fill="#f882aa"/>
<rect x="154.9" y="77.3" width="1.99" height="1.99" fill="#df3898"/>
<rect x="156.9" y="77.3" width="1.99" height="1.99" fill="#f76ea3"/>
<rect x="158.9" y="77.3" width="1.99" height="1.99" fill="#f995b1"/>
<rect x="164.9" y="77.3" width="1.99" height="1.99" fill="#f98cae"/>
<rect x="150.9" y="79.3" width="1.99" height="1.99" fill="#df3998"/>
<rect x="154.9" y="79.3" width="1.99" height="1.99" fill="#d32a92"/>
<rect x="160.9" y="79.3" width="1.99" height="1.99" fill="#dd3497"/>
<rect x="162.9" y="79.3" width="1.99" height="1.99" fill="#f98aad"/>
<rect x="150.9" y="81.3" width="1.99" height="1.99" fill="#e03a98"/>
<rect x="152.9" y="81.3" width="1.99" height="1.99" fill="#fa97b2"/>
<rect x="154.9" y="81.3" width="1.99" height="1.99" fill="#cf258f"/>
<rect x="156.9" y="81.3" width="1.99" height="1.99" fill="#f76fa4"/>
<rect x="160.9" y="81.3" width="1.99" height="1.99" fill="#f992b0"/>
<rect x="162.9" y="81.3" width="1.99" height="1.99" fill="#f986ac"/>
<rect x="166.8" y="81.3" width="1.99" height="1.99" fill="#f992b0"/>
<rect x="152.9" y="83.3" width="1.99" height="1.99" fill="#d22891"/>
<rect x="156.9" y="83.3" width="1.99" height="1.99" fill="#f98aad"/>
<rect x="160.9" y="83.3" width="1.99" height="1.99" fill="#db3196"/>
<rect x="162.9" y="83.3" width="1.99" height="1.99" fill="#f771a4"/>
<rect x="150.9" y="85.3" width="1.99" height="1.99" fill="#f879a7"/>
<rect x="152.9" y="85.3" width="1.99" height="1.99" fill="#dd3597"/>
<rect x="154.9" y="85.3" width="1.99" height="1.99" fill="#f872a5"/>
<rect x="156.9" y="85.3" width="1.99" height="1.99" fill="#db3296"/>
<rect x="160.9" y="85.3" width="1.99" height="1.99" fill="#f875a6"/>
<rect x="162.9" y="85.3" width="1.99" height="1.99" fill="#e03a98"/>
<rect x="150.9" y="87.3" width="1.99" height="1.99" fill="#f985ab"/>
<rect x="152.9" y="87.3" width="1.99" height="1.99" fill="#f984ab"/>
<rect x="154.9" y="87.3" width="1.99" height="1.99" fill="#f87aa8"/>
<rect x="158.9" y="87.3" width="1.99" height="1.99" fill="#f76aa2"/>
<rect x="160.9" y="87.3" width="1.99" height="1.99" fill="#f881aa"/>
<rect x="162.9" y="87.3" width="1.99" height="1.99" fill="#f878a7"/>
<rect x="166.8" y="87.3" width="1.99" height="1.99" fill="#fa97b2"/>
<rect x="150.9" y="89.3" width="1.99" height="1.99" fill="#f878a7"/>
<rect x="152.9" y="89.3" width="1.99" height="1.99" fill="#f98eaf"/>
<rect x="162.9" y="89.3" width="1.99" height="1.99" fill="#f76da3"/>
<rect x="164.9" y="89.3" width="1.99" height="1.99" fill="#d02690"/>
<rect x="168.1" y="67.9" width="2.1" height="1.6" fill="#ed539d"/>
<rect x="145.8" y="65.8" width="2.7" height="1.6" fill="#ed539d"/>
<rect x="127.3" y="138.0" width="12.7" height="8.1" fill="#ed539d"/>
<rect x="127.1" y="137.1" width="1.99" height="1.99" fill="#f76ba2"/>
<rect x="131.1" y="137.1" width="1.99" height="1.99" fill="#f769a2"/>
<rect x="133.1" y="137.1" width="1.99" height="1.99" fill="#f76aa2"/>
<rect x="135.0" y="137.1" width="1.99" height="1.99" fill="#f98faf"/>
<rect x="137.0" y="137.1" width="1.99" height="1.99" fill="#df3998"/>
<rect x="139.0" y="137.1" width="1.99" height="1.99" fill="#ce248f"/>
<rect x="127.1" y="139.1" width="1.99" height="1.99" fill="#f87ca8"/>
<rect x="131.1" y="139.1" width="1.99" height="1.99" fill="#f873a5"/>
<rect x="133.1" y="139.1" width="1.99" height="1.99" fill="#fa98b2"/>
<rect x="135.0" y="139.1" width="1.99" height="1.99" fill="#f98eaf"/>
<rect x="137.0" y="139.1" width="1.99" height="1.99" fill="#d72e94"/>
<rect x="129.1" y="141.1" width="1.99" height="1.99" fill="#f87ca8"/>
<rect x="133.1" y="141.1" width="1.99" height="1.99" fill="#d02690"/>
<rect x="135.0" y="141.1" width="1.99" height="1.99" fill="#f993b1"/>
<rect x="137.0" y="141.1" width="1.99" height="1.99" fill="#f87ca8"/>
<rect x="129.1" y="143.1" width="1.99" height="1.99" fill="#f87da9"/>
<rect x="131.1" y="143.1" width="1.99" height="1.99" fill="#f98eaf"/>
<rect x="133.1" y="143.1" width="1.99" height="1.99" fill="#f873a5"/>
<rect x="135.0" y="143.1" width="1.99" height="1.99" fill="#f990b0"/>
<rect x="137.0" y="143.1" width="1.99" height="1.99" fill="#de3697"/>
<rect x="131.1" y="145.1" width="1.99" height="1.99" fill="#d52c93"/>
<rect x="135.0" y="145.1" width="1.99" height="1.99" fill="#d52c93"/>
<rect x="137.0" y="145.1" width="1.99" height="1.99" fill="#d02690"/>
<rect x="139.0" y="145.1" width="1.99" height="1.99" fill="#f76da3"/>
<rect x="204.6" y="27.5" width="2.0" height="4.0" fill="#e23e99"/>
<rect x="88.5" y="163.8" width="2.0" height="2.0" fill="#e23e99"/>
<rect x="120.3" y="166.2" width="2.0" height="2.0" fill="#e23e99"/>
<rect x="88.4" y="71.2" width="16.6" height="11.7" fill="#e23e99"/>
<rect x="93.3" y="71.3" width="1.99" height="1.99" fill="#c01588"/>
<rect x="97.3" y="71.3" width="1.99" height="1.99" fill="#c01487"/>
<rect x="89.3" y="73.3" width="1.99" height="1.99" fill="#f15c9f"/>
<rect x="93.3" y="73.3" width="1.99" height="1.99" fill="#ba0e85"/>
<rect x="97.3" y="73.3" width="1.99" height="1.99" fill="#d32992"/>
<rect x="89.3" y="75.3" width="1.99" height="1.99" fill="#f666a1"/>
<rect x="91.3" y="75.3" width="1.99" height="1.99" fill="#c4198a"/>
<rect x="93.3" y="75.3" width="1.99" height="1.99" fill="#f76ba2"/>
<rect x="95.3" y="75.3" width="1.99" height="1.99" fill="#c71c8b"/>
<rect x="97.3" y="75.3" width="1.99" height="1.99" fill="#bb1085"/>
<rect x="103.2" y="75.3" width="1.99" height="1.99" fill="#c01487"/>
<rect x="91.3" y="77.3" width="1.99" height="1.99" fill="#f05a9e"/>
<rect x="95.3" y="77.3" width="1.99" height="1.99" fill="#c21789"/>
<rect x="97.3" y="77.3" width="1.99" height="1.99" fill="#f564a0"/>
<rect x="99.3" y="77.3" width="1.99" height="1.99" fill="#f0599e"/>
<rect x="101.2" y="77.3" width="1.99" height="1.99" fill="#f666a1"/>
<rect x="103.2" y="77.3" width="1.99" height="1.99" fill="#c91f8c"/>
<rect x="93.3" y="79.3" width="1.99" height="1.99" fill="#ef589e"/>
<rect x="95.3" y="79.3" width="1.99" height="1.99" fill="#c91f8d"/>
<rect x="99.3" y="79.3" width="1.99" height="1.99" fill="#f25e9f"/>
<rect x="103.2" y="79.3" width="1.99" height="1.99" fill="#bc1085"/>
<rect x="89.3" y="81.3" width="1.99" height="1.99" fill="#f876a6"/>
<rect x="91.3" y="81.3" width="1.99" height="1.99" fill="#f05a9e"/>
<rect x="93.3" y="81.3" width="1.99" height="1.99" fill="#ce248f"/>
<rect x="97.3" y="81.3" width="1.99" height="1.99" fill="#f76da3"/>
<rect x="99.3" y="81.3" width="1.99" height="1.99" fill="#f666a1"/>
<rect x="103.2" y="81.3" width="1.99" height="1.99" fill="#be1286"/>
<rect x="105.2" y="135.3" width="5.0" height="6.3" fill="#e23e99"/>
<rect x="127.3" y="131.7" width="10.8" height="6.3" fill="#e23e99"/>
<rect x="131.1" y="131.1" width="1.99" height="1.99" fill="#c81d8c"/>
<rect x="133.1" y="131.1" width="1.99" height="1.99" fill="#ce248f"/>
<rect x="135.0" y="131.1" width="1.99" height="1.99" fill="#c51a8a"/>
<rect x="127.1" y="133.1" width="1.99" height="1.99" fill="#f769a1"/>
<rect x="129.1" y="133.1" width="1.99" height="1.99" fill="#cb208d"/>
<rect x="131.1" y="133.1" width="1.99" height="1.99" fill="#f767a1"/>
<rect x="133.1" y="133.1" width="1.99" height="1.99" fill="#f875a6"/>
<rect x="135.0" y="133.1" width="1.99" height="1.99" fill="#ef579e"/>
<rect x="129.1" y="135.1" width="1.99" height="1.99" fill="#f770a4"/>
<rect x="131.1" y="135.1" width="1.99" height="1.99" fill="#c81d8c"/>
<rect x="137.0" y="135.1" width="1.99" height="1.99" fill="#d22891"/>
<rect x="127.1" y="137.1" width="1.99" height="1.99" fill="#f76ca2"/>
<rect x="129.1" y="137.1" width="1.99" height="1.99" fill="#bf1487"/>
<rect x="135.0" y="137.1" width="1.99" height="1.99" fill="#f87fa9"/>
<rect x="137.0" y="137.1" width="1.99" height="1.99" fill="#f565a0"/>
<rect x="122.8" y="128.1" width="6.3" height="4.5" fill="#c11588"/>
<rect x="118.6" y="69.7" width="1.9" height="2.9" fill="#ae017e"/>
<rect x="96.5" y="37.9" width="6.0" height="2.0" fill="#99017b"/>
<rect x="63.1" y="204.4" width="4.0" height="4.0" fill="#99017b"/>
<rect x="94.3" y="69.2" width="8.8" height="11.7" fill="#99017b"/>
<rect x="93.3" y="69.3" width="1.99" height="1.99" fill="#7a0177"/>
<rect x="99.3" y="69.3" width="1.99" height="1.99" fill="#690172"/>
<rect x="97.3" y="71.3" width="1.99" height="1.99" fill="#c4198a"/>
<rect x="101.2" y="71.3" width="1.99" height="1.99" fill="#be1387"/>
<rect x="95.3" y="73.3" width="1.99" height="1.99" fill="#bd1186"/>
<rect x="97.3" y="73.3" width="1.99" height="1.99" fill="#c91e8c"/>
<rect x="99.3" y="73.3" width="1.99" height="1.99" fill="#b40781"/>
<rect x="101.2" y="73.3" width="1.99" height="1.99" fill="#ca1f8d"/>
<rect x="93.3" y="75.3" width="1.99" height="1.99" fill="#7d0177"/>
<rect x="95.3" y="75.3" width="1.99" height="1.99" fill="#760176"/>
<rect x="97.3" y="75.3" width="1.99" height="1.99" fill="#d62c93"/>
<rect x="101.2" y="75.3" width="1.99" height="1.99" fill="#d72e94"/>
<rect x="93.3" y="77.3" width="1.99" height="1.99" fill="#b20680"/>
<rect x="95.3" y="77.3" width="1.99" height="1.99" fill="#af027f"/>
<rect x="93.3" y="79.3" width="1.99" height="1.99" fill="#bf1487"/>
<rect x="97.3" y="79.3" width="1.99" height="1.99" fill="#700174"/>
<rect x="99.3" y="79.3" width="1.99" height="1.99" fill="#b60982"/>
<rect x="101.2" y="79.3" width="1.99" height="1.99" fill="#790177"/>
<rect x="155.3" y="73.3" width="5.3" height="4.8" fill="#99017b"/>
<rect x="117.4" y="123.5" width="6.3" height="8.1" fill="#99017b"/>
<rect x="119.1" y="123.1" width="1.99" height="1.99" fill="#c11688"/>
<rect x="123.1" y="123.1" width="1.99" height="1.99" fill="#840178"/>
<rect x="117.2" y="125.1" width="1.99" height="1.99" fill="#c21789"/>
<rect x="119.1" y="125.1" width="1.99" height="1.99" fill="#cc218e"/>
<rect x="121.1" y="125.1" width="1.99" height="1.99" fill="#770176"/>
<rect x="123.1" y="125.1" width="1.99" height="1.99" fill="#6e0174"/>
<rect x="117.2" y="127.1" width="1.99" height="1.99" fill="#c31889"/>
<rect x="119.1" y="127.1" width="1.99" height="1.99" fill="#6a0173"/>
<rect x="121.1" y="127.1" width="1.99" height="1.99" fill="#700174"/>
<rect x="117.2" y="129.1" width="1.99" height="1.99" fill="#730175"/>
<rect x="119.1" y="129.1" width="1.99" height="1.99" fill="#720175"/>
<rect x="121.1" y="129.1" width="1.99" height="1.99" fill="#710175"/>
<rect x="119.1" y="131.1" width="1.99" height="1.99" fill="#cc218e"/>
<rect x="121.1" y="131.1" width="1.99" height="1.99" fill="#830178"/>
<rect x="123.1" y="131.1" width="1.99" height="1.99" fill="#cd228e"/>
<rect x="115.1" y="157.9" width="3.2" height="3.2" fill="#99017b"/>
<rect x="98.1" y="36.3" width="2.0" height="6.0" fill="#840178"/>
<rect x="79.0" y="45.4" width="2.0" height="4.0" fill="#840178"/>
<rect x="187.1" y="61.4" width="2.0" height="2.0" fill="#840178"/>
<rect x="96.5" y="137.1" width="2.0" height="2.0" fill="#840178"/>
<rect x="88.5" y="151.8" width="2.0" height="2.0" fill="#840178"/>
<rect x="91.7" y="206.8" width="2.0" height="2.0" fill="#840178"/>
<rect x="153.2" y="36.0" width="2.1" height="3.2" fill="#840178"/>
<rect x="155.3" y="55.2" width="2.7" height="2.1" fill="#840178"/>
<rect x="112.9" y="132.6" width="2.7" height="4.1" fill="#840178"/>
<rect x="130.0" y="135.3" width="3.2" height="3.2" fill="#840178"/>
<rect x="135.5" y="133.0" width="2.3" height="2.3" fill="#840178"/>
<rect x="130.0" y="139.8" width="5.4" height="5.4" fill="#840178"/>
<rect x="97.5" y="137.1" width="1.4" height="1.8" fill="#840178"/>
<rect x="155.3" y="78.1" width="9.6" height="8.5" fill="#780176"/>
<rect x="154.9" y="77.3" width="1.99" height="1.99" fill="#55006d"/>
<rect x="158.9" y="77.3" width="1.99" height="1.99" fill="#90017a"/>
<rect x="154.9" y="79.3" width="1.99" height="1.99" fill="#600070"/>
<rect x="156.9" y="79.3" width="1.99" height="1.99" fill="#99017b"/>
<rect x="160.9" y="79.3" width="1.99" height="1.99" fill="#50006c"/>
<rect x="162.9" y="79.3" width="1.99" height="1.99" fill="#600070"/>
<rect x="154.9" y="81.3" width="1.99" height="1.99" fill="#55006d"/>
<rect x="160.9" y="81.3" width="1.99" height="1.99" fill="#a3017d"/>
<rect x="162.9" y="81.3" width="1.99" height="1.99" fill="#8e017a"/>
<rect x="156.9" y="83.3" width="1.99" height="1.99" fill="#9a017b"/>
<rect x="160.9" y="83.3" width="1.99" height="1.99" fill="#ad017e"/>
<rect x="162.9" y="83.3" width="1.99" height="1.99" fill="#b0037f"/>
<rect x="154.9" y="85.3" width="1.99" height="1.99" fill="#56006d"/>
<rect x="156.9" y="85.3" width="1.99" height="1.99" fill="#a1017c"/>
<rect x="160.9" y="85.3" width="1.99" height="1.99" fill="#b90d84"/>
<rect x="162.9" y="85.3" width="1.99" height="1.99" fill="#95017b"/>
<rect x="118.3" y="133.0" width="5.4" height="3.2" fill="#780176"/>
<rect x="150.5" y="45.6" width="4.8" height="1.6" fill="#700174"/>
<rect x="170.2" y="47.7" width="2.7" height="3.7" fill="#700174"/>
<rect x="162.8" y="65.8" width="2.7" height="2.1" fill="#700174"/>
<rect x="147.9" y="75.4" width="2.7" height="3.7" fill="#700174"/>
<rect x="119.2" y="127.2" width="3.6" height="2.7" fill="#700174"/>
<rect x="146.3" y="145.2" width="3.2" height="4.1" fill="#700174"/>
<rect x="95.2" y="70.2" width="6.8" height="9.7" fill="#640171"/>
<rect x="97.3" y="69.3" width="1.99" height="1.99" fill="#91017a"/>
<rect x="99.3" y="69.3" width="1.99" height="1.99" fill="#800178"/>
<rect x="95.3" y="71.3" width="1.99" height="1.99" fill="#4f006b"/>
<rect x="97.3" y="71.3" width="1.99" height="1.99" fill="#49006a"/>
<rect x="99.3" y="71.3" width="1.99" height="1.99" fill="#830178"/>
<rect x="101.2" y="71.3" width="1.99" height="1.99" fill="#49006a"/>
<rect x="95.3" y="73.3" width="1.99" height="1.99" fill="#870179"/>
<rect x="97.3" y="73.3" width="1.99" height="1.99" fill="#810178"/>
<rect x="101.2" y="73.3" width="1.99" height="1.99" fill="#4f006c"/>
<rect x="97.3" y="75.3" width="1.99" height="1.99" fill="#9a017b"/>
<rect x="99.3" y="75.3" width="1.99" height="1.99" fill="#7e0178"/>
<rect x="95.3" y="77.3" width="1.99" height="1.99" fill="#880179"/>
<rect x="97.3" y="77.3" width="1.99" height="1.99" fill="#94017a"/>
<rect x="99.3" y="77.3" width="1.99" height="1.99" fill="#4d006b"/>
<rect x="101.2" y="77.3" width="1.99" height="1.99" fill="#9a017b"/>
<rect x="101.2" y="79.3" width="1.99" height="1.99" fill="#7c0177"/>
<rect x="160.1" y="82.3" width="3.7" height="7.4" fill="#640171"/>
</g>
<use href="#geo"/>
<rect x="35.05" y="17.3" width="243.75" height="227.7" fill="none" stroke="#000" stroke-width="1.5"/>
<text x="78.90" y="9.00" font-size="12.3" textLength="28.80" lengthAdjust="spacingAndGlyphs" stroke="#000" stroke-width="0.3" >30°E</text>
<text x="158.40" y="9.00" font-size="12.3" textLength="28.80" lengthAdjust="spacingAndGlyphs" stroke="#000" stroke-width="0.3" >40°E</text>
<text x="237.90" y="9.00" font-size="12.3" textLength="28.80" lengthAdjust="spacingAndGlyphs" stroke="#000" stroke-width="0.3" >50°E</text>
<text x="-0.60" y="63.80" font-size="12.3" textLength="29.00" lengthAdjust="spacingAndGlyphs" stroke="#000" stroke-width="0.3" >10°N</text>
<text x="15.10" y="143.80" font-size="12.3" textLength="13.70" lengthAdjust="spacingAndGlyphs" stroke="#000" stroke-width="0.3" >0°</text>
<text x="0.30" y="223.80" font-size="12.3" textLength="28.60" lengthAdjust="spacingAndGlyphs" stroke="#000" stroke-width="0.3" >10°S</text>
<text x="4.36" y="37.30" font-size="13.8" textLength="19.19" lengthAdjust="spacingAndGlyphs" stroke="#000" stroke-width="0.3" >(d)</text>
</g>
<defs><linearGradient id="cbg" x1="0" x2="1" y1="0" y2="0">
<stop offset="0.0000" stop-color="#fff7f3"/>
<stop offset="0.1250" stop-color="#fde0dd"/>
<stop offset="0.2500" stop-color="#fcc5c0"/>
<stop offset="0.3750" stop-color="#fa9fb5"/>
<stop offset="0.5000" stop-color="#f768a1"/>
<stop offset="0.6250" stop-color="#dd3497"/>
<stop offset="0.7500" stop-color="#ae017e"/>
<stop offset="0.8750" stop-color="#7a0177"/>
<stop offset="1.0000" stop-color="#49006a"/>
</linearGradient></defs>
<path d="M42.5,549.6 L545.8,549.6 L545.8,563.1 L42.5,563.1Z" fill="url(#cbg)"/>
<path d="M43.1,549.6 L17.0,556.35 L43.1,563.1Z" fill="#fff7f3"/>
<path d="M545.1999999999999,549.6 L572.4,556.35 L545.1999999999999,563.1Z" fill="#49006a"/>
<path d="M42.5,549.6 L545.8,549.6 L572.4,556.35 L545.8,563.1 L42.5,563.1 L17.0,556.35Z" fill="none" stroke="#000" stroke-width="1.1"/>
<line x1="42.50" y1="563.1" x2="42.50" y2="566.7" stroke="#000" stroke-width="1.1"/>
<text x="29.90" y="581.40" font-size="12.3" textLength="25.20" lengthAdjust="spacingAndGlyphs" stroke="#000" stroke-width="0.3" >0.00</text>
<line x1="105.41" y1="563.1" x2="105.41" y2="566.7" stroke="#000" stroke-width="1.1"/>
<text x="92.81" y="581.40" font-size="12.3" textLength="25.20" lengthAdjust="spacingAndGlyphs" stroke="#000" stroke-width="0.3" >0.25</text>
<line x1="168.32" y1="563.1" x2="168.32" y2="566.7" stroke="#000" stroke-width="1.1"/>
<text x="155.72" y="581.40" font-size="12.3" textLength="25.20" lengthAdjust="spacingAndGlyphs" stroke="#000" stroke-width="0.3" >0.50</text>
<line x1="231.24" y1="563.1" x2="231.24" y2="566.7" stroke="#000" stroke-width="1.1"/>
<text x="218.64" y="581.40" font-size="12.3" textLength="25.20" lengthAdjust="spacingAndGlyphs" stroke="#000" stroke-width="0.3" >0.75</text>
<line x1="294.15" y1="563.1" x2="294.15" y2="566.7" stroke="#000" stroke-width="1.1"/>
<text x="281.55" y="581.40" font-size="12.3" textLength="25.20" lengthAdjust="spacingAndGlyphs" stroke="#000" stroke-width="0.3" >1.00</text>
<line x1="357.06" y1="563.1" x2="357.06" y2="566.7" stroke="#000" stroke-width="1.1"/>
<text x="344.46" y="581.40" font-size="12.3" textLength="25.20" lengthAdjust="spacingAndGlyphs" stroke="#000" stroke-width="0.3" >1.25</text>
<line x1="419.97" y1="563.1" x2="419.97" y2="566.7" stroke="#000" stroke-width="1.1"/>
<text x="407.37" y="581.40" font-size="12.3" textLength="25.20" lengthAdjust="spacingAndGlyphs" stroke="#000" stroke-width="0.3" >1.50</text>
<line x1="482.89" y1="563.1" x2="482.89" y2="566.7" stroke="#000" stroke-width="1.1"/>
<text x="470.29" y="581.40" font-size="12.3" textLength="25.20" lengthAdjust="spacingAndGlyphs" stroke="#000" stroke-width="0.3" >1.75</text>
<line x1="545.80" y1="563.1" x2="545.80" y2="566.7" stroke="#000" stroke-width="1.1"/>
<text x="533.20" y="581.40" font-size="12.3" textLength="25.20" lengthAdjust="spacingAndGlyphs" stroke="#000" stroke-width="0.3" >2.00</text>
<text x="538.70" y="596.50" font-size="12.3" textLength="32.20" lengthAdjust="spacingAndGlyphs" stroke="#000" stroke-width="0.3" >1e−9</text>
<text x="212" y="599.1" font-size="12.3" textLength="164" lengthAdjust="spacingAndGlyphs" stroke="#000" stroke-width="0.3">CH<tspan font-size="8.6" dy="2">4</tspan><tspan dy="-2"> emissions (kg m</tspan><tspan font-size="8.6" dy="-4.5">−2</tspan><tspan dy="4.5"> s</tspan><tspan font-size="8.6" dy="-4.5">−1</tspan><tspan dy="4.5">)</tspan></text>
</svg></body></html>
